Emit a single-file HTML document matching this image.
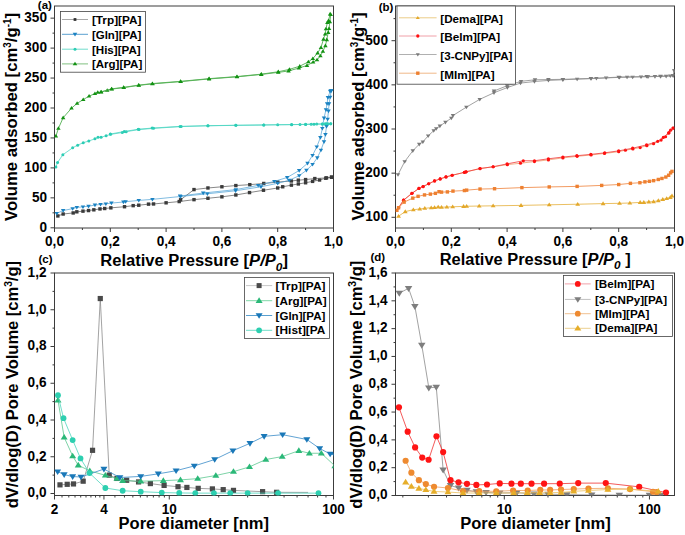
<!DOCTYPE html>
<html><head><meta charset="utf-8"><style>html,body{margin:0;padding:0;background:#fff;}svg{display:block;}</style></head>
<body>
<svg width="685" height="535" viewBox="0 0 685 535">
<defs>
<clipPath id="ca"><rect x="54.5" y="6" width="279" height="222"/></clipPath>
<clipPath id="cb"><rect x="395.5" y="6" width="279" height="222"/></clipPath>
<clipPath id="cc"><rect x="54.5" y="273" width="279" height="222.5"/></clipPath>
<clipPath id="cd"><rect x="395.5" y="273" width="279" height="222.5"/></clipPath>
</defs>
<rect width="685" height="535" fill="#fff"/>
<rect x="54.5" y="6" width="279.0" height="222" fill="none" stroke="#3c3c3c" stroke-width="1"/>
<line x1="54.5" y1="227.80" x2="50.5" y2="227.80" stroke="#3c3c3c" stroke-width="1"/>
<text x="47.00" y="231.60" font-size="13.8" font-weight="bold" text-anchor="end" font-family="Liberation Sans, sans-serif" fill="#000"  textLength="7.56" lengthAdjust="spacingAndGlyphs">0</text>
<line x1="54.5" y1="197.85" x2="50.5" y2="197.85" stroke="#3c3c3c" stroke-width="1"/>
<text x="47.00" y="201.65" font-size="13.8" font-weight="bold" text-anchor="end" font-family="Liberation Sans, sans-serif" fill="#000"  textLength="15.12" lengthAdjust="spacingAndGlyphs">50</text>
<line x1="54.5" y1="167.90" x2="50.5" y2="167.90" stroke="#3c3c3c" stroke-width="1"/>
<text x="47.00" y="171.70" font-size="13.8" font-weight="bold" text-anchor="end" font-family="Liberation Sans, sans-serif" fill="#000"  textLength="22.68" lengthAdjust="spacingAndGlyphs">100</text>
<line x1="54.5" y1="137.95" x2="50.5" y2="137.95" stroke="#3c3c3c" stroke-width="1"/>
<text x="47.00" y="141.75" font-size="13.8" font-weight="bold" text-anchor="end" font-family="Liberation Sans, sans-serif" fill="#000"  textLength="22.68" lengthAdjust="spacingAndGlyphs">150</text>
<line x1="54.5" y1="108.00" x2="50.5" y2="108.00" stroke="#3c3c3c" stroke-width="1"/>
<text x="47.00" y="111.80" font-size="13.8" font-weight="bold" text-anchor="end" font-family="Liberation Sans, sans-serif" fill="#000"  textLength="22.68" lengthAdjust="spacingAndGlyphs">200</text>
<line x1="54.5" y1="78.05" x2="50.5" y2="78.05" stroke="#3c3c3c" stroke-width="1"/>
<text x="47.00" y="81.85" font-size="13.8" font-weight="bold" text-anchor="end" font-family="Liberation Sans, sans-serif" fill="#000"  textLength="22.68" lengthAdjust="spacingAndGlyphs">250</text>
<line x1="54.5" y1="48.10" x2="50.5" y2="48.10" stroke="#3c3c3c" stroke-width="1"/>
<text x="47.00" y="51.90" font-size="13.8" font-weight="bold" text-anchor="end" font-family="Liberation Sans, sans-serif" fill="#000"  textLength="22.68" lengthAdjust="spacingAndGlyphs">300</text>
<line x1="54.5" y1="18.15" x2="50.5" y2="18.15" stroke="#3c3c3c" stroke-width="1"/>
<text x="47.00" y="21.95" font-size="13.8" font-weight="bold" text-anchor="end" font-family="Liberation Sans, sans-serif" fill="#000"  textLength="22.68" lengthAdjust="spacingAndGlyphs">350</text>
<line x1="54.5" y1="212.83" x2="52.5" y2="212.83" stroke="#3c3c3c" stroke-width="1"/>
<line x1="54.5" y1="182.88" x2="52.5" y2="182.88" stroke="#3c3c3c" stroke-width="1"/>
<line x1="54.5" y1="152.93" x2="52.5" y2="152.93" stroke="#3c3c3c" stroke-width="1"/>
<line x1="54.5" y1="122.98" x2="52.5" y2="122.98" stroke="#3c3c3c" stroke-width="1"/>
<line x1="54.5" y1="93.03" x2="52.5" y2="93.03" stroke="#3c3c3c" stroke-width="1"/>
<line x1="54.5" y1="63.08" x2="52.5" y2="63.08" stroke="#3c3c3c" stroke-width="1"/>
<line x1="54.5" y1="33.13" x2="52.5" y2="33.13" stroke="#3c3c3c" stroke-width="1"/>
<line x1="54.50" y1="228" x2="54.50" y2="232" stroke="#3c3c3c" stroke-width="1"/>
<text x="54.50" y="246.30" font-size="13.8" font-weight="bold" text-anchor="middle" font-family="Liberation Sans, sans-serif" fill="#000"  textLength="18.90" lengthAdjust="spacingAndGlyphs">0,0</text>
<line x1="82.40" y1="228" x2="82.40" y2="230" stroke="#3c3c3c" stroke-width="1"/>
<line x1="110.30" y1="228" x2="110.30" y2="232" stroke="#3c3c3c" stroke-width="1"/>
<text x="110.30" y="246.30" font-size="13.8" font-weight="bold" text-anchor="middle" font-family="Liberation Sans, sans-serif" fill="#000"  textLength="18.90" lengthAdjust="spacingAndGlyphs">0,2</text>
<line x1="138.20" y1="228" x2="138.20" y2="230" stroke="#3c3c3c" stroke-width="1"/>
<line x1="166.10" y1="228" x2="166.10" y2="232" stroke="#3c3c3c" stroke-width="1"/>
<text x="166.10" y="246.30" font-size="13.8" font-weight="bold" text-anchor="middle" font-family="Liberation Sans, sans-serif" fill="#000"  textLength="18.90" lengthAdjust="spacingAndGlyphs">0,4</text>
<line x1="194.00" y1="228" x2="194.00" y2="230" stroke="#3c3c3c" stroke-width="1"/>
<line x1="221.90" y1="228" x2="221.90" y2="232" stroke="#3c3c3c" stroke-width="1"/>
<text x="221.90" y="246.30" font-size="13.8" font-weight="bold" text-anchor="middle" font-family="Liberation Sans, sans-serif" fill="#000"  textLength="18.90" lengthAdjust="spacingAndGlyphs">0,6</text>
<line x1="249.80" y1="228" x2="249.80" y2="230" stroke="#3c3c3c" stroke-width="1"/>
<line x1="277.70" y1="228" x2="277.70" y2="232" stroke="#3c3c3c" stroke-width="1"/>
<text x="277.70" y="246.30" font-size="13.8" font-weight="bold" text-anchor="middle" font-family="Liberation Sans, sans-serif" fill="#000"  textLength="18.90" lengthAdjust="spacingAndGlyphs">0,8</text>
<line x1="305.60" y1="228" x2="305.60" y2="230" stroke="#3c3c3c" stroke-width="1"/>
<line x1="333.50" y1="228" x2="333.50" y2="232" stroke="#3c3c3c" stroke-width="1"/>
<text x="333.50" y="246.30" font-size="13.8" font-weight="bold" text-anchor="middle" font-family="Liberation Sans, sans-serif" fill="#000"  textLength="18.90" lengthAdjust="spacingAndGlyphs">1,0</text>
<text x="37.80" y="9.30" font-size="11.5" font-weight="bold" text-anchor="start" font-family="Liberation Sans, sans-serif" fill="#000" >(a)</text>
<text transform="translate(17.3,221.0) rotate(-90)" font-size="17" font-weight="bold" font-family="Liberation Sans, sans-serif" fill="#000" textLength="208" lengthAdjust="spacingAndGlyphs">Volume adsorbed [cm<tspan font-size="10" dy="-6">3</tspan><tspan dy="6">/g</tspan><tspan font-size="10" dy="-6">-1</tspan><tspan dy="6">]</tspan></text>
<text x="100.3" y="266.3" font-size="16" font-weight="bold" font-family="Liberation Sans, sans-serif" fill="#000" textLength="187.6" lengthAdjust="spacingAndGlyphs">Relative Pressure [<tspan font-style="italic">P/P</tspan><tspan font-style="italic" font-size="11.5" dy="4.2">0</tspan><tspan dy="-4.2">]</tspan></text>
<g clip-path="url(#ca)"><polyline points="57.85,215.94 63.15,214.02 73.19,212.94 76.82,211.81 82.96,211.15 88.54,210.55 93.84,209.83 99.98,208.93 104.72,208.51 110.86,207.85 124.53,206.72 133.18,205.64 138.76,205.22 148.52,204.14 153.55,203.96 166.10,202.82 179.21,201.56 194.00,199.65 207.95,198.27 221.90,196.83 235.85,194.97 249.52,192.58 263.47,190.24 277.70,187.97 282.72,186.77 291.37,185.15 298.35,183.95 305.60,182.76 312.57,181.38 319.55,180.00 325.69,178.20 331.55,177.18" fill="none" stroke="#606060" stroke-width="0.75" stroke-linejoin="round"/>
<rect x="56.15" y="214.24" width="3.4" height="3.4" fill="#3a3a3a"/>
<rect x="61.45" y="212.32" width="3.4" height="3.4" fill="#3a3a3a"/>
<rect x="71.49" y="211.24" width="3.4" height="3.4" fill="#3a3a3a"/>
<rect x="75.12" y="210.11" width="3.4" height="3.4" fill="#3a3a3a"/>
<rect x="81.26" y="209.45" width="3.4" height="3.4" fill="#3a3a3a"/>
<rect x="86.84" y="208.85" width="3.4" height="3.4" fill="#3a3a3a"/>
<rect x="92.14" y="208.13" width="3.4" height="3.4" fill="#3a3a3a"/>
<rect x="98.28" y="207.23" width="3.4" height="3.4" fill="#3a3a3a"/>
<rect x="103.02" y="206.81" width="3.4" height="3.4" fill="#3a3a3a"/>
<rect x="109.16" y="206.15" width="3.4" height="3.4" fill="#3a3a3a"/>
<rect x="122.83" y="205.02" width="3.4" height="3.4" fill="#3a3a3a"/>
<rect x="131.48" y="203.94" width="3.4" height="3.4" fill="#3a3a3a"/>
<rect x="137.06" y="203.52" width="3.4" height="3.4" fill="#3a3a3a"/>
<rect x="146.82" y="202.44" width="3.4" height="3.4" fill="#3a3a3a"/>
<rect x="151.85" y="202.26" width="3.4" height="3.4" fill="#3a3a3a"/>
<rect x="164.40" y="201.12" width="3.4" height="3.4" fill="#3a3a3a"/>
<rect x="177.51" y="199.86" width="3.4" height="3.4" fill="#3a3a3a"/>
<rect x="192.30" y="197.95" width="3.4" height="3.4" fill="#3a3a3a"/>
<rect x="206.25" y="196.57" width="3.4" height="3.4" fill="#3a3a3a"/>
<rect x="220.20" y="195.13" width="3.4" height="3.4" fill="#3a3a3a"/>
<rect x="234.15" y="193.27" width="3.4" height="3.4" fill="#3a3a3a"/>
<rect x="247.82" y="190.88" width="3.4" height="3.4" fill="#3a3a3a"/>
<rect x="261.77" y="188.54" width="3.4" height="3.4" fill="#3a3a3a"/>
<rect x="276.00" y="186.27" width="3.4" height="3.4" fill="#3a3a3a"/>
<rect x="281.02" y="185.07" width="3.4" height="3.4" fill="#3a3a3a"/>
<rect x="289.67" y="183.45" width="3.4" height="3.4" fill="#3a3a3a"/>
<rect x="296.65" y="182.25" width="3.4" height="3.4" fill="#3a3a3a"/>
<rect x="303.90" y="181.06" width="3.4" height="3.4" fill="#3a3a3a"/>
<rect x="310.88" y="179.68" width="3.4" height="3.4" fill="#3a3a3a"/>
<rect x="317.85" y="178.30" width="3.4" height="3.4" fill="#3a3a3a"/>
<rect x="323.99" y="176.50" width="3.4" height="3.4" fill="#3a3a3a"/>
<rect x="329.85" y="175.48" width="3.4" height="3.4" fill="#3a3a3a"/>
</g>
<g clip-path="url(#ca)"><polyline points="331.55,177.18 326.52,177.90 314.81,178.56 305.60,179.58 298.35,180.18 291.37,180.96 277.70,182.10 263.75,183.47 249.80,184.67 235.85,185.57 221.90,186.77 207.95,187.97 194.00,189.58 180.61,199.77" fill="none" stroke="#606060" stroke-width="0.75" stroke-linejoin="round"/>
<rect x="329.85" y="175.48" width="3.4" height="3.4" fill="#3a3a3a"/>
<rect x="324.82" y="176.20" width="3.4" height="3.4" fill="#3a3a3a"/>
<rect x="313.11" y="176.86" width="3.4" height="3.4" fill="#3a3a3a"/>
<rect x="303.90" y="177.88" width="3.4" height="3.4" fill="#3a3a3a"/>
<rect x="296.65" y="178.48" width="3.4" height="3.4" fill="#3a3a3a"/>
<rect x="289.67" y="179.26" width="3.4" height="3.4" fill="#3a3a3a"/>
<rect x="276.00" y="180.40" width="3.4" height="3.4" fill="#3a3a3a"/>
<rect x="262.05" y="181.77" width="3.4" height="3.4" fill="#3a3a3a"/>
<rect x="248.10" y="182.97" width="3.4" height="3.4" fill="#3a3a3a"/>
<rect x="234.15" y="183.87" width="3.4" height="3.4" fill="#3a3a3a"/>
<rect x="220.20" y="185.07" width="3.4" height="3.4" fill="#3a3a3a"/>
<rect x="206.25" y="186.27" width="3.4" height="3.4" fill="#3a3a3a"/>
<rect x="192.30" y="187.88" width="3.4" height="3.4" fill="#3a3a3a"/>
<rect x="178.91" y="198.07" width="3.4" height="3.4" fill="#3a3a3a"/>
</g>
<g clip-path="url(#ca)"><polyline points="56.73,213.42 63.15,210.55 72.64,208.63 76.82,207.43 82.96,206.84 88.54,206.24 94.95,205.04 100.53,204.44 105.84,203.84 111.42,203.06 123.41,202.04 125.64,201.68 138.76,200.43 152.43,199.35 180.61,196.47 207.39,193.78 235.57,190.78 260.96,186.77 277.70,183.29 289.14,180.30 299.18,175.69 306.44,170.30 312.57,164.43 317.32,157.72 320.94,150.11 324.01,141.78 325.41,134.54 326.52,126.33 327.64,119.20 328.48,111.00 329.04,103.81 330.15,97.10 331.27,90.63" fill="none" stroke="#4a9fd4" stroke-width="0.7" stroke-linejoin="round"/>
<path d="M56.73 215.58L58.98 211.98L54.48 211.98Z" fill="#1a82c2"/>
<path d="M63.15 212.71L65.40 209.11L60.90 209.11Z" fill="#1a82c2"/>
<path d="M72.64 210.79L74.89 207.19L70.39 207.19Z" fill="#1a82c2"/>
<path d="M76.82 209.59L79.07 205.99L74.57 205.99Z" fill="#1a82c2"/>
<path d="M82.96 209.00L85.21 205.40L80.71 205.40Z" fill="#1a82c2"/>
<path d="M88.54 208.40L90.79 204.80L86.29 204.80Z" fill="#1a82c2"/>
<path d="M94.95 207.20L97.20 203.60L92.70 203.60Z" fill="#1a82c2"/>
<path d="M100.53 206.60L102.78 203.00L98.28 203.00Z" fill="#1a82c2"/>
<path d="M105.84 206.00L108.09 202.40L103.59 202.40Z" fill="#1a82c2"/>
<path d="M111.42 205.22L113.67 201.62L109.17 201.62Z" fill="#1a82c2"/>
<path d="M123.41 204.20L125.66 200.60L121.16 200.60Z" fill="#1a82c2"/>
<path d="M125.64 203.84L127.89 200.24L123.39 200.24Z" fill="#1a82c2"/>
<path d="M138.76 202.59L141.01 198.99L136.51 198.99Z" fill="#1a82c2"/>
<path d="M152.43 201.51L154.68 197.91L150.18 197.91Z" fill="#1a82c2"/>
<path d="M180.61 198.63L182.86 195.03L178.36 195.03Z" fill="#1a82c2"/>
<path d="M207.39 195.94L209.64 192.34L205.14 192.34Z" fill="#1a82c2"/>
<path d="M235.57 192.94L237.82 189.34L233.32 189.34Z" fill="#1a82c2"/>
<path d="M260.96 188.93L263.21 185.33L258.71 185.33Z" fill="#1a82c2"/>
<path d="M277.70 185.45L279.95 181.85L275.45 181.85Z" fill="#1a82c2"/>
<path d="M289.14 182.46L291.39 178.86L286.89 178.86Z" fill="#1a82c2"/>
<path d="M299.18 177.85L301.43 174.25L296.93 174.25Z" fill="#1a82c2"/>
<path d="M306.44 172.46L308.69 168.86L304.19 168.86Z" fill="#1a82c2"/>
<path d="M312.57 166.59L314.82 162.99L310.32 162.99Z" fill="#1a82c2"/>
<path d="M317.32 159.88L319.57 156.28L315.07 156.28Z" fill="#1a82c2"/>
<path d="M320.94 152.27L323.19 148.67L318.69 148.67Z" fill="#1a82c2"/>
<path d="M324.01 143.94L326.26 140.34L321.76 140.34Z" fill="#1a82c2"/>
<path d="M325.41 136.70L327.66 133.10L323.16 133.10Z" fill="#1a82c2"/>
<path d="M326.52 128.49L328.77 124.89L324.27 124.89Z" fill="#1a82c2"/>
<path d="M327.64 121.36L329.89 117.76L325.39 117.76Z" fill="#1a82c2"/>
<path d="M328.48 113.16L330.73 109.56L326.23 109.56Z" fill="#1a82c2"/>
<path d="M329.04 105.97L331.29 102.37L326.79 102.37Z" fill="#1a82c2"/>
<path d="M330.15 99.26L332.40 95.66L327.90 95.66Z" fill="#1a82c2"/>
<path d="M331.27 92.79L333.52 89.19L329.02 89.19Z" fill="#1a82c2"/>
</g>
<g clip-path="url(#ca)"><polyline points="331.27,90.63 330.15,91.29 327.92,97.52 327.08,103.69 325.97,109.80 324.01,118.00 322.34,128.37 320.39,137.53 316.76,146.94 312.57,155.32 307.55,163.29 299.18,170.48 287.19,177.48 274.35,181.38 258.17,185.39 235.85,189.58 203.21,193.06 180.05,196.05" fill="none" stroke="#4a9fd4" stroke-width="0.7" stroke-linejoin="round"/>
<path d="M331.27 92.79L333.52 89.19L329.02 89.19Z" fill="#1a82c2"/>
<path d="M330.15 93.45L332.40 89.85L327.90 89.85Z" fill="#1a82c2"/>
<path d="M327.92 99.68L330.17 96.08L325.67 96.08Z" fill="#1a82c2"/>
<path d="M327.08 105.85L329.33 102.25L324.83 102.25Z" fill="#1a82c2"/>
<path d="M325.97 111.96L328.22 108.36L323.72 108.36Z" fill="#1a82c2"/>
<path d="M324.01 120.16L326.26 116.56L321.76 116.56Z" fill="#1a82c2"/>
<path d="M322.34 130.53L324.59 126.93L320.09 126.93Z" fill="#1a82c2"/>
<path d="M320.39 139.69L322.64 136.09L318.14 136.09Z" fill="#1a82c2"/>
<path d="M316.76 149.09L319.01 145.50L314.51 145.50Z" fill="#1a82c2"/>
<path d="M312.57 157.48L314.82 153.88L310.32 153.88Z" fill="#1a82c2"/>
<path d="M307.55 165.45L309.80 161.85L305.30 161.85Z" fill="#1a82c2"/>
<path d="M299.18 172.64L301.43 169.04L296.93 169.04Z" fill="#1a82c2"/>
<path d="M287.19 179.64L289.44 176.04L284.94 176.04Z" fill="#1a82c2"/>
<path d="M274.35 183.54L276.60 179.94L272.10 179.94Z" fill="#1a82c2"/>
<path d="M258.17 187.55L260.42 183.95L255.92 183.95Z" fill="#1a82c2"/>
<path d="M235.85 191.74L238.10 188.14L233.60 188.14Z" fill="#1a82c2"/>
<path d="M203.21 195.22L205.46 191.62L200.96 191.62Z" fill="#1a82c2"/>
<path d="M180.05 198.21L182.30 194.61L177.80 194.61Z" fill="#1a82c2"/>
</g>
<g clip-path="url(#ca)"><polyline points="55.90,167.12 57.57,162.51 62.87,154.72 72.64,147.83 77.66,145.14 83.24,142.74 88.82,140.95 94.95,138.85 98.02,137.35 101.09,137.35 106.12,135.73 110.58,134.36 122.30,132.56 126.20,131.66 139.04,129.56 153.55,128.37 181.17,126.57 207.95,125.79 235.85,125.37 263.75,125.07 277.70,124.77 291.65,124.65 300.02,124.47 305.60,124.35 311.18,124.17 316.76,124.05 322.34,123.99 325.13,123.87 327.92,123.81 330.71,123.69" fill="none" stroke="#48d4c0" stroke-width="0.75" stroke-linejoin="round"/>
<circle cx="55.90" cy="167.12" r="1.5" fill="#2ccdb5"/>
<circle cx="57.57" cy="162.51" r="1.5" fill="#2ccdb5"/>
<circle cx="62.87" cy="154.72" r="1.5" fill="#2ccdb5"/>
<circle cx="72.64" cy="147.83" r="1.5" fill="#2ccdb5"/>
<circle cx="77.66" cy="145.14" r="1.5" fill="#2ccdb5"/>
<circle cx="83.24" cy="142.74" r="1.5" fill="#2ccdb5"/>
<circle cx="88.82" cy="140.95" r="1.5" fill="#2ccdb5"/>
<circle cx="94.95" cy="138.85" r="1.5" fill="#2ccdb5"/>
<circle cx="98.02" cy="137.35" r="1.5" fill="#2ccdb5"/>
<circle cx="101.09" cy="137.35" r="1.5" fill="#2ccdb5"/>
<circle cx="106.12" cy="135.73" r="1.5" fill="#2ccdb5"/>
<circle cx="110.58" cy="134.36" r="1.5" fill="#2ccdb5"/>
<circle cx="122.30" cy="132.56" r="1.5" fill="#2ccdb5"/>
<circle cx="126.20" cy="131.66" r="1.5" fill="#2ccdb5"/>
<circle cx="139.04" cy="129.56" r="1.5" fill="#2ccdb5"/>
<circle cx="153.55" cy="128.37" r="1.5" fill="#2ccdb5"/>
<circle cx="181.17" cy="126.57" r="1.5" fill="#2ccdb5"/>
<circle cx="207.95" cy="125.79" r="1.5" fill="#2ccdb5"/>
<circle cx="235.85" cy="125.37" r="1.5" fill="#2ccdb5"/>
<circle cx="263.75" cy="125.07" r="1.5" fill="#2ccdb5"/>
<circle cx="277.70" cy="124.77" r="1.5" fill="#2ccdb5"/>
<circle cx="291.65" cy="124.65" r="1.5" fill="#2ccdb5"/>
<circle cx="300.02" cy="124.47" r="1.5" fill="#2ccdb5"/>
<circle cx="305.60" cy="124.35" r="1.5" fill="#2ccdb5"/>
<circle cx="311.18" cy="124.17" r="1.5" fill="#2ccdb5"/>
<circle cx="316.76" cy="124.05" r="1.5" fill="#2ccdb5"/>
<circle cx="322.34" cy="123.99" r="1.5" fill="#2ccdb5"/>
<circle cx="325.13" cy="123.87" r="1.5" fill="#2ccdb5"/>
<circle cx="327.92" cy="123.81" r="1.5" fill="#2ccdb5"/>
<circle cx="330.71" cy="123.69" r="1.5" fill="#2ccdb5"/>
</g>
<g clip-path="url(#ca)"><polyline points="330.71,123.69 326.52,123.87 322.34,123.99 313.97,124.17 305.60,124.41 291.65,124.59 263.75,124.89 235.85,125.25 207.95,125.67 180.05,126.39 152.15,128.07 138.20,129.26 124.25,131.48 110.30,134.06" fill="none" stroke="#48d4c0" stroke-width="0.75" stroke-linejoin="round"/>
<circle cx="330.71" cy="123.69" r="1.5" fill="#2ccdb5"/>
<circle cx="326.52" cy="123.87" r="1.5" fill="#2ccdb5"/>
<circle cx="322.34" cy="123.99" r="1.5" fill="#2ccdb5"/>
<circle cx="313.97" cy="124.17" r="1.5" fill="#2ccdb5"/>
<circle cx="305.60" cy="124.41" r="1.5" fill="#2ccdb5"/>
<circle cx="291.65" cy="124.59" r="1.5" fill="#2ccdb5"/>
<circle cx="263.75" cy="124.89" r="1.5" fill="#2ccdb5"/>
<circle cx="235.85" cy="125.25" r="1.5" fill="#2ccdb5"/>
<circle cx="207.95" cy="125.67" r="1.5" fill="#2ccdb5"/>
<circle cx="180.05" cy="126.39" r="1.5" fill="#2ccdb5"/>
<circle cx="152.15" cy="128.07" r="1.5" fill="#2ccdb5"/>
<circle cx="138.20" cy="129.26" r="1.5" fill="#2ccdb5"/>
<circle cx="124.25" cy="131.48" r="1.5" fill="#2ccdb5"/>
<circle cx="110.30" cy="134.06" r="1.5" fill="#2ccdb5"/>
</g>
<g clip-path="url(#ca)"><polyline points="55.90,136.15 58.41,128.37 63.15,117.76 71.52,108.18 77.10,103.33 83.24,99.61 89.10,96.14 94.95,93.62 97.75,92.43 101.09,92.13 107.23,90.33 111.69,89.13 123.69,87.63 138.76,85.36 152.43,83.86 180.61,81.64 209.07,78.95 236.97,76.85 261.24,74.46 278.26,72.36 288.58,70.98 298.90,68.05 307.00,65.47 313.13,62.18 317.04,59.90 320.39,55.89 322.90,51.39 325.41,45.70 326.80,39.71 328.20,32.53 329.04,28.63 329.87,21.74 330.71,14.56" fill="none" stroke="#52b052" stroke-width="0.9" stroke-linejoin="round"/>
<path d="M55.90 133.99L58.15 137.59L53.65 137.59Z" fill="#139213"/>
<path d="M58.41 126.21L60.66 129.81L56.16 129.81Z" fill="#139213"/>
<path d="M63.15 115.60L65.40 119.20L60.90 119.20Z" fill="#139213"/>
<path d="M71.52 106.02L73.77 109.62L69.27 109.62Z" fill="#139213"/>
<path d="M77.10 101.17L79.35 104.77L74.85 104.77Z" fill="#139213"/>
<path d="M83.24 97.45L85.49 101.05L80.99 101.05Z" fill="#139213"/>
<path d="M89.10 93.98L91.35 97.58L86.85 97.58Z" fill="#139213"/>
<path d="M94.95 91.46L97.20 95.06L92.70 95.06Z" fill="#139213"/>
<path d="M97.75 90.27L100.00 93.87L95.50 93.87Z" fill="#139213"/>
<path d="M101.09 89.97L103.34 93.57L98.84 93.57Z" fill="#139213"/>
<path d="M107.23 88.17L109.48 91.77L104.98 91.77Z" fill="#139213"/>
<path d="M111.69 86.97L113.94 90.57L109.44 90.57Z" fill="#139213"/>
<path d="M123.69 85.47L125.94 89.07L121.44 89.07Z" fill="#139213"/>
<path d="M138.76 83.20L141.01 86.80L136.51 86.80Z" fill="#139213"/>
<path d="M152.43 81.70L154.68 85.30L150.18 85.30Z" fill="#139213"/>
<path d="M180.61 79.48L182.86 83.08L178.36 83.08Z" fill="#139213"/>
<path d="M209.07 76.79L211.32 80.39L206.82 80.39Z" fill="#139213"/>
<path d="M236.97 74.69L239.22 78.29L234.72 78.29Z" fill="#139213"/>
<path d="M261.24 72.30L263.49 75.90L258.99 75.90Z" fill="#139213"/>
<path d="M278.26 70.20L280.51 73.80L276.01 73.80Z" fill="#139213"/>
<path d="M288.58 68.82L290.83 72.42L286.33 72.42Z" fill="#139213"/>
<path d="M298.90 65.89L301.15 69.49L296.65 69.49Z" fill="#139213"/>
<path d="M307.00 63.31L309.25 66.91L304.75 66.91Z" fill="#139213"/>
<path d="M313.13 60.02L315.38 63.62L310.88 63.62Z" fill="#139213"/>
<path d="M317.04 57.74L319.29 61.34L314.79 61.34Z" fill="#139213"/>
<path d="M320.39 53.73L322.64 57.33L318.14 57.33Z" fill="#139213"/>
<path d="M322.90 49.23L325.15 52.83L320.65 52.83Z" fill="#139213"/>
<path d="M325.41 43.54L327.66 47.14L323.16 47.14Z" fill="#139213"/>
<path d="M326.80 37.55L329.05 41.15L324.55 41.15Z" fill="#139213"/>
<path d="M328.20 30.37L330.45 33.97L325.95 33.97Z" fill="#139213"/>
<path d="M329.04 26.47L331.29 30.07L326.79 30.07Z" fill="#139213"/>
<path d="M329.87 19.58L332.12 23.18L327.62 23.18Z" fill="#139213"/>
<path d="M330.71 12.40L332.96 16.00L328.46 16.00Z" fill="#139213"/>
</g>
<g clip-path="url(#ca)"><polyline points="330.15,13.96 328.48,20.73 327.36,22.64 325.97,28.93 325.13,34.14 323.46,39.23 320.94,47.62 317.60,53.01 312.85,58.58 308.39,61.88 299.74,66.19 289.42,69.36 278.26,71.76 261.24,74.16 236.97,76.55 209.07,78.65 180.61,81.34 152.43,83.56 138.76,85.12 123.69,87.33 111.69,88.83 101.09,91.83" fill="none" stroke="#52b052" stroke-width="0.9" stroke-linejoin="round"/>
<path d="M330.15 11.80L332.40 15.40L327.90 15.40Z" fill="#139213"/>
<path d="M328.48 18.57L330.73 22.17L326.23 22.17Z" fill="#139213"/>
<path d="M327.36 20.48L329.61 24.08L325.11 24.08Z" fill="#139213"/>
<path d="M325.97 26.77L328.22 30.37L323.72 30.37Z" fill="#139213"/>
<path d="M325.13 31.98L327.38 35.58L322.88 35.58Z" fill="#139213"/>
<path d="M323.46 37.07L325.71 40.67L321.21 40.67Z" fill="#139213"/>
<path d="M320.94 45.46L323.19 49.06L318.69 49.06Z" fill="#139213"/>
<path d="M317.60 50.85L319.85 54.45L315.35 54.45Z" fill="#139213"/>
<path d="M312.85 56.42L315.10 60.02L310.60 60.02Z" fill="#139213"/>
<path d="M308.39 59.72L310.64 63.32L306.14 63.32Z" fill="#139213"/>
<path d="M299.74 64.03L301.99 67.63L297.49 67.63Z" fill="#139213"/>
<path d="M289.42 67.20L291.67 70.80L287.17 70.80Z" fill="#139213"/>
<path d="M278.26 69.60L280.51 73.20L276.01 73.20Z" fill="#139213"/>
<path d="M261.24 72.00L263.49 75.60L258.99 75.60Z" fill="#139213"/>
<path d="M236.97 74.39L239.22 77.99L234.72 77.99Z" fill="#139213"/>
<path d="M209.07 76.49L211.32 80.09L206.82 80.09Z" fill="#139213"/>
<path d="M180.61 79.18L182.86 82.78L178.36 82.78Z" fill="#139213"/>
<path d="M152.43 81.40L154.68 85.00L150.18 85.00Z" fill="#139213"/>
<path d="M138.76 82.96L141.01 86.56L136.51 86.56Z" fill="#139213"/>
<path d="M123.69 85.17L125.94 88.77L121.44 88.77Z" fill="#139213"/>
<path d="M111.69 86.67L113.94 90.27L109.44 90.27Z" fill="#139213"/>
<path d="M101.09 89.67L103.34 93.27L98.84 93.27Z" fill="#139213"/>
</g>
<rect x="60.5" y="11.5" width="85.0" height="60.7" fill="#fff" stroke="#444" stroke-width="0.8"/>
<line x1="62" y1="19.5" x2="88" y2="19.5" stroke="#a8a8a8" stroke-width="1"/>
<rect x="73.60" y="18.10" width="2.8" height="2.8" fill="#333"/>
<text x="91.90" y="24.00" font-size="11.3" font-weight="bold" text-anchor="start" font-family="Liberation Sans, sans-serif" fill="#000" textLength="49.5" lengthAdjust="spacingAndGlyphs">[Trp][PA]</text>
<line x1="62" y1="34.3" x2="88" y2="34.3" stroke="#5aa0d0" stroke-width="1"/>
<path d="M75.00 36.51L77.30 32.83L72.70 32.83Z" fill="#1a82c2"/>
<text x="91.90" y="38.80" font-size="11.3" font-weight="bold" text-anchor="start" font-family="Liberation Sans, sans-serif" fill="#000" textLength="49.5" lengthAdjust="spacingAndGlyphs">[Gln][PA]</text>
<line x1="62" y1="49.2" x2="88" y2="49.2" stroke="#70dccc" stroke-width="1"/>
<circle cx="75.00" cy="49.20" r="1.5" fill="#2ccdb5"/>
<text x="91.90" y="53.70" font-size="11.3" font-weight="bold" text-anchor="start" font-family="Liberation Sans, sans-serif" fill="#000" textLength="48.8" lengthAdjust="spacingAndGlyphs">[His][PA]</text>
<line x1="62" y1="63.9" x2="88" y2="63.9" stroke="#80c080" stroke-width="1"/>
<path d="M75.00 61.69L77.30 65.37L72.70 65.37Z" fill="#139213"/>
<text x="91.90" y="68.40" font-size="11.3" font-weight="bold" text-anchor="start" font-family="Liberation Sans, sans-serif" fill="#000" textLength="50.4" lengthAdjust="spacingAndGlyphs">[Arg][PA]</text>
<rect x="395.5" y="6" width="279.0" height="222" fill="none" stroke="#3c3c3c" stroke-width="1"/>
<line x1="395.5" y1="217.30" x2="391.5" y2="217.30" stroke="#3c3c3c" stroke-width="1"/>
<text x="388.00" y="221.10" font-size="13.8" font-weight="bold" text-anchor="end" font-family="Liberation Sans, sans-serif" fill="#000"  textLength="22.68" lengthAdjust="spacingAndGlyphs">100</text>
<line x1="395.5" y1="173.15" x2="391.5" y2="173.15" stroke="#3c3c3c" stroke-width="1"/>
<text x="388.00" y="176.95" font-size="13.8" font-weight="bold" text-anchor="end" font-family="Liberation Sans, sans-serif" fill="#000"  textLength="22.68" lengthAdjust="spacingAndGlyphs">200</text>
<line x1="395.5" y1="129.00" x2="391.5" y2="129.00" stroke="#3c3c3c" stroke-width="1"/>
<text x="388.00" y="132.80" font-size="13.8" font-weight="bold" text-anchor="end" font-family="Liberation Sans, sans-serif" fill="#000"  textLength="22.68" lengthAdjust="spacingAndGlyphs">300</text>
<line x1="395.5" y1="84.85" x2="391.5" y2="84.85" stroke="#3c3c3c" stroke-width="1"/>
<text x="388.00" y="88.65" font-size="13.8" font-weight="bold" text-anchor="end" font-family="Liberation Sans, sans-serif" fill="#000"  textLength="22.68" lengthAdjust="spacingAndGlyphs">400</text>
<line x1="395.5" y1="40.70" x2="391.5" y2="40.70" stroke="#3c3c3c" stroke-width="1"/>
<text x="388.00" y="44.50" font-size="13.8" font-weight="bold" text-anchor="end" font-family="Liberation Sans, sans-serif" fill="#000"  textLength="22.68" lengthAdjust="spacingAndGlyphs">500</text>
<line x1="395.5" y1="195.23" x2="393.5" y2="195.23" stroke="#3c3c3c" stroke-width="1"/>
<line x1="395.5" y1="151.08" x2="393.5" y2="151.08" stroke="#3c3c3c" stroke-width="1"/>
<line x1="395.5" y1="106.93" x2="393.5" y2="106.93" stroke="#3c3c3c" stroke-width="1"/>
<line x1="395.5" y1="62.78" x2="393.5" y2="62.78" stroke="#3c3c3c" stroke-width="1"/>
<line x1="395.5" y1="18.62" x2="393.5" y2="18.62" stroke="#3c3c3c" stroke-width="1"/>
<line x1="395.50" y1="228" x2="395.50" y2="232" stroke="#3c3c3c" stroke-width="1"/>
<text x="395.50" y="246.30" font-size="13.8" font-weight="bold" text-anchor="middle" font-family="Liberation Sans, sans-serif" fill="#000"  textLength="18.90" lengthAdjust="spacingAndGlyphs">0,0</text>
<line x1="423.40" y1="228" x2="423.40" y2="230" stroke="#3c3c3c" stroke-width="1"/>
<line x1="451.30" y1="228" x2="451.30" y2="232" stroke="#3c3c3c" stroke-width="1"/>
<text x="451.30" y="246.30" font-size="13.8" font-weight="bold" text-anchor="middle" font-family="Liberation Sans, sans-serif" fill="#000"  textLength="18.90" lengthAdjust="spacingAndGlyphs">0,2</text>
<line x1="479.20" y1="228" x2="479.20" y2="230" stroke="#3c3c3c" stroke-width="1"/>
<line x1="507.10" y1="228" x2="507.10" y2="232" stroke="#3c3c3c" stroke-width="1"/>
<text x="507.10" y="246.30" font-size="13.8" font-weight="bold" text-anchor="middle" font-family="Liberation Sans, sans-serif" fill="#000"  textLength="18.90" lengthAdjust="spacingAndGlyphs">0,4</text>
<line x1="535.00" y1="228" x2="535.00" y2="230" stroke="#3c3c3c" stroke-width="1"/>
<line x1="562.90" y1="228" x2="562.90" y2="232" stroke="#3c3c3c" stroke-width="1"/>
<text x="562.90" y="246.30" font-size="13.8" font-weight="bold" text-anchor="middle" font-family="Liberation Sans, sans-serif" fill="#000"  textLength="18.90" lengthAdjust="spacingAndGlyphs">0,6</text>
<line x1="590.80" y1="228" x2="590.80" y2="230" stroke="#3c3c3c" stroke-width="1"/>
<line x1="618.70" y1="228" x2="618.70" y2="232" stroke="#3c3c3c" stroke-width="1"/>
<text x="618.70" y="246.30" font-size="13.8" font-weight="bold" text-anchor="middle" font-family="Liberation Sans, sans-serif" fill="#000"  textLength="18.90" lengthAdjust="spacingAndGlyphs">0,8</text>
<line x1="646.60" y1="228" x2="646.60" y2="230" stroke="#3c3c3c" stroke-width="1"/>
<line x1="674.50" y1="228" x2="674.50" y2="232" stroke="#3c3c3c" stroke-width="1"/>
<text x="674.50" y="246.30" font-size="13.8" font-weight="bold" text-anchor="middle" font-family="Liberation Sans, sans-serif" fill="#000"  textLength="18.90" lengthAdjust="spacingAndGlyphs">1,0</text>
<text x="378.70" y="10.90" font-size="11.5" font-weight="bold" text-anchor="start" font-family="Liberation Sans, sans-serif" fill="#000" >(b)</text>
<text transform="translate(364,220.5) rotate(-90)" font-size="17" font-weight="bold" font-family="Liberation Sans, sans-serif" fill="#000" textLength="208" lengthAdjust="spacingAndGlyphs">Volume adsorbed [cm<tspan font-size="10" dy="-6">3</tspan><tspan dy="6">/g</tspan><tspan font-size="10" dy="-6">-1</tspan><tspan dy="6">]</tspan></text>
<text x="439.7" y="264.5" font-size="16" font-weight="bold" font-family="Liberation Sans, sans-serif" fill="#000" textLength="191" lengthAdjust="spacingAndGlyphs">Relative Pressure [<tspan font-style="italic">P/P</tspan><tspan font-style="italic" font-size="11.5" dy="4.2">0</tspan><tspan dy="-4.2"> ]</tspan></text>
<g clip-path="url(#cb)"><polyline points="398.01,174.65 404.71,161.58 412.80,150.77 419.22,144.28 422.84,141.89 428.14,135.89 433.72,130.68 436.23,128.60 439.86,126.00 445.44,122.29 451.30,118.09 452.97,115.53 466.37,107.15 479.76,99.33 493.99,92.75 507.38,87.54 520.49,83.08 534.44,81.54 548.39,80.44 562.90,79.77 577.13,79.11 591.08,78.67 596.38,78.45 606.14,77.96 619.54,77.34 627.07,77.21 632.65,77.08 641.02,76.90 648.00,76.77 654.97,76.55 660.55,76.46 666.13,76.24 670.32,75.93 673.11,75.67 674.36,70.72" fill="none" stroke="#8a8a8a" stroke-width="0.8" stroke-linejoin="round"/>
<path d="M398.01 176.81L400.26 173.21L395.76 173.21Z" fill="#7a7a7a"/>
<path d="M404.71 163.74L406.96 160.14L402.46 160.14Z" fill="#7a7a7a"/>
<path d="M412.80 152.93L415.05 149.33L410.55 149.33Z" fill="#7a7a7a"/>
<path d="M419.22 146.44L421.47 142.84L416.97 142.84Z" fill="#7a7a7a"/>
<path d="M422.84 144.05L425.09 140.45L420.59 140.45Z" fill="#7a7a7a"/>
<path d="M428.14 138.05L430.39 134.45L425.89 134.45Z" fill="#7a7a7a"/>
<path d="M433.72 132.84L435.97 129.24L431.47 129.24Z" fill="#7a7a7a"/>
<path d="M436.23 130.76L438.48 127.16L433.98 127.16Z" fill="#7a7a7a"/>
<path d="M439.86 128.16L442.11 124.56L437.61 124.56Z" fill="#7a7a7a"/>
<path d="M445.44 124.45L447.69 120.85L443.19 120.85Z" fill="#7a7a7a"/>
<path d="M451.30 120.25L453.55 116.65L449.05 116.65Z" fill="#7a7a7a"/>
<path d="M452.97 117.69L455.22 114.09L450.72 114.09Z" fill="#7a7a7a"/>
<path d="M466.37 109.31L468.62 105.71L464.12 105.71Z" fill="#7a7a7a"/>
<path d="M479.76 101.49L482.01 97.89L477.51 97.89Z" fill="#7a7a7a"/>
<path d="M493.99 94.91L496.24 91.31L491.74 91.31Z" fill="#7a7a7a"/>
<path d="M507.38 89.70L509.63 86.10L505.13 86.10Z" fill="#7a7a7a"/>
<path d="M520.49 85.24L522.74 81.64L518.24 81.64Z" fill="#7a7a7a"/>
<path d="M534.44 83.70L536.69 80.10L532.19 80.10Z" fill="#7a7a7a"/>
<path d="M548.39 82.59L550.64 79.00L546.14 79.00Z" fill="#7a7a7a"/>
<path d="M562.90 81.93L565.15 78.33L560.65 78.33Z" fill="#7a7a7a"/>
<path d="M577.13 81.27L579.38 77.67L574.88 77.67Z" fill="#7a7a7a"/>
<path d="M591.08 80.83L593.33 77.23L588.83 77.23Z" fill="#7a7a7a"/>
<path d="M596.38 80.61L598.63 77.01L594.13 77.01Z" fill="#7a7a7a"/>
<path d="M606.14 80.12L608.39 76.52L603.89 76.52Z" fill="#7a7a7a"/>
<path d="M619.54 79.50L621.79 75.90L617.29 75.90Z" fill="#7a7a7a"/>
<path d="M627.07 79.37L629.32 75.77L624.82 75.77Z" fill="#7a7a7a"/>
<path d="M632.65 79.24L634.90 75.64L630.40 75.64Z" fill="#7a7a7a"/>
<path d="M641.02 79.06L643.27 75.46L638.77 75.46Z" fill="#7a7a7a"/>
<path d="M648.00 78.93L650.25 75.33L645.75 75.33Z" fill="#7a7a7a"/>
<path d="M654.97 78.71L657.22 75.11L652.72 75.11Z" fill="#7a7a7a"/>
<path d="M660.55 78.62L662.80 75.02L658.30 75.02Z" fill="#7a7a7a"/>
<path d="M666.13 78.40L668.38 74.80L663.88 74.80Z" fill="#7a7a7a"/>
<path d="M670.32 78.09L672.57 74.49L668.07 74.49Z" fill="#7a7a7a"/>
<path d="M673.11 77.83L675.36 74.23L670.86 74.23Z" fill="#7a7a7a"/>
<path d="M674.36 72.88L676.61 69.28L672.11 69.28Z" fill="#7a7a7a"/>
</g>
<g clip-path="url(#cb)"><polyline points="674.36,70.72 673.11,75.58 660.55,76.24 646.60,76.46 618.70,77.12 590.80,78.45 562.90,79.33 548.39,79.55 535.00,79.77 521.05,81.32 507.10,85.73 493.99,91.03" fill="none" stroke="#8a8a8a" stroke-width="0.8" stroke-linejoin="round"/>
<path d="M674.36 72.88L676.61 69.28L672.11 69.28Z" fill="#7a7a7a"/>
<path d="M673.11 77.74L675.36 74.14L670.86 74.14Z" fill="#7a7a7a"/>
<path d="M660.55 78.40L662.80 74.80L658.30 74.80Z" fill="#7a7a7a"/>
<path d="M646.60 78.62L648.85 75.02L644.35 75.02Z" fill="#7a7a7a"/>
<path d="M618.70 79.28L620.95 75.68L616.45 75.68Z" fill="#7a7a7a"/>
<path d="M590.80 80.61L593.05 77.01L588.55 77.01Z" fill="#7a7a7a"/>
<path d="M562.90 81.49L565.15 77.89L560.65 77.89Z" fill="#7a7a7a"/>
<path d="M548.39 81.71L550.64 78.11L546.14 78.11Z" fill="#7a7a7a"/>
<path d="M535.00 81.93L537.25 78.33L532.75 78.33Z" fill="#7a7a7a"/>
<path d="M521.05 83.48L523.30 79.88L518.80 79.88Z" fill="#7a7a7a"/>
<path d="M507.10 87.89L509.35 84.29L504.85 84.29Z" fill="#7a7a7a"/>
<path d="M493.99 93.19L496.24 89.59L491.74 89.59Z" fill="#7a7a7a"/>
</g>
<g clip-path="url(#cb)"><polyline points="398.57,207.72 403.59,200.13 411.96,193.33 418.94,188.43 423.12,186.53 428.70,183.75 434.56,180.92 440.14,178.93 446.00,176.95 452.14,175.27 464.41,172.36 466.09,171.83 480.04,168.56 493.15,166.75 507.38,164.67 520.49,163.22 534.44,161.58 548.39,159.91 562.90,157.92 577.13,156.37 591.08,154.96 604.47,153.46 618.70,151.69 625.40,150.19 632.93,149.00 640.18,147.54 646.88,145.69 653.58,143.70 661.11,140.08 665.57,136.77 668.64,133.19 670.59,130.19 673.11,128.12" fill="none" stroke="#f0a070" stroke-width="0.8" stroke-linejoin="round"/>
<circle cx="398.57" cy="207.72" r="1.6" fill="#ff1010"/>
<circle cx="403.59" cy="200.13" r="1.6" fill="#ff1010"/>
<circle cx="411.96" cy="193.33" r="1.6" fill="#ff1010"/>
<circle cx="418.94" cy="188.43" r="1.6" fill="#ff1010"/>
<circle cx="423.12" cy="186.53" r="1.6" fill="#ff1010"/>
<circle cx="428.70" cy="183.75" r="1.6" fill="#ff1010"/>
<circle cx="434.56" cy="180.92" r="1.6" fill="#ff1010"/>
<circle cx="440.14" cy="178.93" r="1.6" fill="#ff1010"/>
<circle cx="446.00" cy="176.95" r="1.6" fill="#ff1010"/>
<circle cx="452.14" cy="175.27" r="1.6" fill="#ff1010"/>
<circle cx="464.41" cy="172.36" r="1.6" fill="#ff1010"/>
<circle cx="466.09" cy="171.83" r="1.6" fill="#ff1010"/>
<circle cx="480.04" cy="168.56" r="1.6" fill="#ff1010"/>
<circle cx="493.15" cy="166.75" r="1.6" fill="#ff1010"/>
<circle cx="507.38" cy="164.67" r="1.6" fill="#ff1010"/>
<circle cx="520.49" cy="163.22" r="1.6" fill="#ff1010"/>
<circle cx="534.44" cy="161.58" r="1.6" fill="#ff1010"/>
<circle cx="548.39" cy="159.91" r="1.6" fill="#ff1010"/>
<circle cx="562.90" cy="157.92" r="1.6" fill="#ff1010"/>
<circle cx="577.13" cy="156.37" r="1.6" fill="#ff1010"/>
<circle cx="591.08" cy="154.96" r="1.6" fill="#ff1010"/>
<circle cx="604.47" cy="153.46" r="1.6" fill="#ff1010"/>
<circle cx="618.70" cy="151.69" r="1.6" fill="#ff1010"/>
<circle cx="625.40" cy="150.19" r="1.6" fill="#ff1010"/>
<circle cx="632.93" cy="149.00" r="1.6" fill="#ff1010"/>
<circle cx="640.18" cy="147.54" r="1.6" fill="#ff1010"/>
<circle cx="646.88" cy="145.69" r="1.6" fill="#ff1010"/>
<circle cx="653.58" cy="143.70" r="1.6" fill="#ff1010"/>
<circle cx="661.11" cy="140.08" r="1.6" fill="#ff1010"/>
<circle cx="665.57" cy="136.77" r="1.6" fill="#ff1010"/>
<circle cx="668.64" cy="133.19" r="1.6" fill="#ff1010"/>
<circle cx="670.59" cy="130.19" r="1.6" fill="#ff1010"/>
<circle cx="673.11" cy="128.12" r="1.6" fill="#ff1010"/>
</g>
<g clip-path="url(#cb)"><polyline points="673.11,128.12 668.92,132.53 663.34,137.39 657.76,141.36 646.60,144.89 632.65,148.21 618.70,150.85 604.75,152.84 590.80,154.39 576.85,155.71 562.90,157.04 548.39,158.80 534.44,160.74 523.28,160.79 507.10,163.88 493.15,166.75 480.04,168.56 466.09,171.83 464.41,172.36 452.14,175.27 446.00,176.95 440.14,178.93 434.56,180.92 428.70,183.75 423.12,186.53 418.94,188.43 411.96,193.33 403.59,200.13 398.57,207.72" fill="none" stroke="#f03838" stroke-width="0.8" stroke-linejoin="round"/>
<circle cx="673.11" cy="128.12" r="1.6" fill="#ff1010"/>
<circle cx="668.92" cy="132.53" r="1.6" fill="#ff1010"/>
<circle cx="663.34" cy="137.39" r="1.6" fill="#ff1010"/>
<circle cx="657.76" cy="141.36" r="1.6" fill="#ff1010"/>
<circle cx="646.60" cy="144.89" r="1.6" fill="#ff1010"/>
<circle cx="632.65" cy="148.21" r="1.6" fill="#ff1010"/>
<circle cx="618.70" cy="150.85" r="1.6" fill="#ff1010"/>
<circle cx="604.75" cy="152.84" r="1.6" fill="#ff1010"/>
<circle cx="590.80" cy="154.39" r="1.6" fill="#ff1010"/>
<circle cx="576.85" cy="155.71" r="1.6" fill="#ff1010"/>
<circle cx="562.90" cy="157.04" r="1.6" fill="#ff1010"/>
<circle cx="548.39" cy="158.80" r="1.6" fill="#ff1010"/>
<circle cx="534.44" cy="160.74" r="1.6" fill="#ff1010"/>
<circle cx="523.28" cy="160.79" r="1.6" fill="#ff1010"/>
<circle cx="507.10" cy="163.88" r="1.6" fill="#ff1010"/>
<circle cx="493.15" cy="166.75" r="1.6" fill="#ff1010"/>
<circle cx="480.04" cy="168.56" r="1.6" fill="#ff1010"/>
<circle cx="466.09" cy="171.83" r="1.6" fill="#ff1010"/>
<circle cx="464.41" cy="172.36" r="1.6" fill="#ff1010"/>
<circle cx="452.14" cy="175.27" r="1.6" fill="#ff1010"/>
<circle cx="446.00" cy="176.95" r="1.6" fill="#ff1010"/>
<circle cx="440.14" cy="178.93" r="1.6" fill="#ff1010"/>
<circle cx="434.56" cy="180.92" r="1.6" fill="#ff1010"/>
<circle cx="428.70" cy="183.75" r="1.6" fill="#ff1010"/>
<circle cx="423.12" cy="186.53" r="1.6" fill="#ff1010"/>
<circle cx="418.94" cy="188.43" r="1.6" fill="#ff1010"/>
<circle cx="411.96" cy="193.33" r="1.6" fill="#ff1010"/>
<circle cx="403.59" cy="200.13" r="1.6" fill="#ff1010"/>
<circle cx="398.57" cy="207.72" r="1.6" fill="#ff1010"/>
</g>
<g clip-path="url(#cb)"><polyline points="396.89,210.32 398.57,207.72 404.15,202.11 412.80,198.14 418.10,196.33 424.52,194.92 430.38,194.12 435.40,193.33 439.02,191.69 441.54,192.13 447.39,191.91 452.97,191.12 464.41,190.55 466.64,190.15 480.04,189.04 494.55,188.73 521.89,187.63 549.23,186.92 577.13,186.40 601.68,185.42 618.70,184.54 630.42,183.35 639.90,182.73 644.93,181.85 649.39,181.32 653.58,180.66 658.32,179.46 661.94,178.45 665.85,177.04 668.64,175.27 670.59,172.84 671.99,171.38" fill="none" stroke="#f09050" stroke-width="0.9" stroke-linejoin="round"/>
<rect x="395.19" y="208.62" width="3.4" height="3.4" fill="#ee8030"/>
<rect x="396.87" y="206.02" width="3.4" height="3.4" fill="#ee8030"/>
<rect x="402.45" y="200.41" width="3.4" height="3.4" fill="#ee8030"/>
<rect x="411.10" y="196.44" width="3.4" height="3.4" fill="#ee8030"/>
<rect x="416.40" y="194.63" width="3.4" height="3.4" fill="#ee8030"/>
<rect x="422.82" y="193.22" width="3.4" height="3.4" fill="#ee8030"/>
<rect x="428.68" y="192.42" width="3.4" height="3.4" fill="#ee8030"/>
<rect x="433.70" y="191.63" width="3.4" height="3.4" fill="#ee8030"/>
<rect x="437.32" y="189.99" width="3.4" height="3.4" fill="#ee8030"/>
<rect x="439.84" y="190.43" width="3.4" height="3.4" fill="#ee8030"/>
<rect x="445.69" y="190.21" width="3.4" height="3.4" fill="#ee8030"/>
<rect x="451.27" y="189.42" width="3.4" height="3.4" fill="#ee8030"/>
<rect x="462.71" y="188.85" width="3.4" height="3.4" fill="#ee8030"/>
<rect x="464.94" y="188.45" width="3.4" height="3.4" fill="#ee8030"/>
<rect x="478.34" y="187.34" width="3.4" height="3.4" fill="#ee8030"/>
<rect x="492.85" y="187.03" width="3.4" height="3.4" fill="#ee8030"/>
<rect x="520.19" y="185.93" width="3.4" height="3.4" fill="#ee8030"/>
<rect x="547.53" y="185.22" width="3.4" height="3.4" fill="#ee8030"/>
<rect x="575.43" y="184.70" width="3.4" height="3.4" fill="#ee8030"/>
<rect x="599.98" y="183.72" width="3.4" height="3.4" fill="#ee8030"/>
<rect x="617.00" y="182.84" width="3.4" height="3.4" fill="#ee8030"/>
<rect x="628.72" y="181.65" width="3.4" height="3.4" fill="#ee8030"/>
<rect x="638.20" y="181.03" width="3.4" height="3.4" fill="#ee8030"/>
<rect x="643.23" y="180.15" width="3.4" height="3.4" fill="#ee8030"/>
<rect x="647.69" y="179.62" width="3.4" height="3.4" fill="#ee8030"/>
<rect x="651.88" y="178.96" width="3.4" height="3.4" fill="#ee8030"/>
<rect x="656.62" y="177.76" width="3.4" height="3.4" fill="#ee8030"/>
<rect x="660.24" y="176.75" width="3.4" height="3.4" fill="#ee8030"/>
<rect x="664.15" y="175.34" width="3.4" height="3.4" fill="#ee8030"/>
<rect x="666.94" y="173.57" width="3.4" height="3.4" fill="#ee8030"/>
<rect x="668.89" y="171.14" width="3.4" height="3.4" fill="#ee8030"/>
<rect x="670.29" y="169.68" width="3.4" height="3.4" fill="#ee8030"/>
</g>
<g clip-path="url(#cb)"><polyline points="398.57,216.20 405.26,211.60 413.36,209.71 419.77,209.00 424.80,208.29 431.21,207.72 434.56,207.59 438.19,207.01 441.54,207.23 446.84,207.01 452.69,206.79 463.58,206.39 466.64,206.26 479.20,206.04 493.15,205.82 521.05,205.38 549.23,204.81 577.69,204.23 603.08,203.61 619.54,203.30 629.86,203.00 640.18,202.42 643.81,202.38 648.83,201.85 653.58,201.63 658.32,200.61 662.78,199.42 666.69,198.54 670.32,197.34 671.99,195.84" fill="none" stroke="#e8b850" stroke-width="0.9" stroke-linejoin="round"/>
<path d="M398.57 213.89L400.97 217.73L396.17 217.73Z" fill="#e3a82a"/>
<path d="M405.26 209.30L407.66 213.14L402.87 213.14Z" fill="#e3a82a"/>
<path d="M413.36 207.40L415.76 211.24L410.96 211.24Z" fill="#e3a82a"/>
<path d="M419.77 206.70L422.17 210.54L417.37 210.54Z" fill="#e3a82a"/>
<path d="M424.80 205.99L427.19 209.83L422.40 209.83Z" fill="#e3a82a"/>
<path d="M431.21 205.42L433.61 209.26L428.81 209.26Z" fill="#e3a82a"/>
<path d="M434.56 205.28L436.96 209.12L432.16 209.12Z" fill="#e3a82a"/>
<path d="M438.19 204.71L440.59 208.55L435.79 208.55Z" fill="#e3a82a"/>
<path d="M441.54 204.93L443.94 208.77L439.14 208.77Z" fill="#e3a82a"/>
<path d="M446.84 204.71L449.24 208.55L444.44 208.55Z" fill="#e3a82a"/>
<path d="M452.69 204.49L455.09 208.33L450.30 208.33Z" fill="#e3a82a"/>
<path d="M463.58 204.09L465.98 207.93L461.18 207.93Z" fill="#e3a82a"/>
<path d="M466.64 203.96L469.04 207.80L464.25 207.80Z" fill="#e3a82a"/>
<path d="M479.20 203.74L481.60 207.58L476.80 207.58Z" fill="#e3a82a"/>
<path d="M493.15 203.52L495.55 207.36L490.75 207.36Z" fill="#e3a82a"/>
<path d="M521.05 203.08L523.45 206.92L518.65 206.92Z" fill="#e3a82a"/>
<path d="M549.23 202.50L551.63 206.34L546.83 206.34Z" fill="#e3a82a"/>
<path d="M577.69 201.93L580.09 205.77L575.29 205.77Z" fill="#e3a82a"/>
<path d="M603.08 201.31L605.48 205.15L600.68 205.15Z" fill="#e3a82a"/>
<path d="M619.54 201.00L621.94 204.84L617.14 204.84Z" fill="#e3a82a"/>
<path d="M629.86 200.69L632.26 204.53L627.46 204.53Z" fill="#e3a82a"/>
<path d="M640.18 200.12L642.58 203.96L637.78 203.96Z" fill="#e3a82a"/>
<path d="M643.81 200.07L646.21 203.91L641.41 203.91Z" fill="#e3a82a"/>
<path d="M648.83 199.54L651.23 203.38L646.43 203.38Z" fill="#e3a82a"/>
<path d="M653.58 199.32L655.98 203.16L651.18 203.16Z" fill="#e3a82a"/>
<path d="M658.32 198.31L660.72 202.15L655.92 202.15Z" fill="#e3a82a"/>
<path d="M662.78 197.12L665.18 200.96L660.38 200.96Z" fill="#e3a82a"/>
<path d="M666.69 196.23L669.09 200.07L664.29 200.07Z" fill="#e3a82a"/>
<path d="M670.32 195.04L672.72 198.88L667.92 198.88Z" fill="#e3a82a"/>
<path d="M671.99 193.54L674.39 197.38L669.59 197.38Z" fill="#e3a82a"/>
</g>
<rect x="397" y="6" width="118.5" height="78.2" fill="#fff" stroke="#444" stroke-width="0.8"/>
<line x1="399" y1="17.8" x2="436.6" y2="17.8" stroke="#eccc88" stroke-width="1"/>
<path d="M417.80 15.88L419.80 19.08L415.80 19.08Z" fill="#e3a82a"/>
<text x="440.30" y="23.10" font-size="11.3" font-weight="bold" text-anchor="start" font-family="Liberation Sans, sans-serif" fill="#000" textLength="62.6" lengthAdjust="spacingAndGlyphs">[Dema][PA]</text>
<line x1="399" y1="36.0" x2="436.6" y2="36.0" stroke="#f0a0a8" stroke-width="1"/>
<circle cx="417.80" cy="36.00" r="1.65" fill="#ff1010"/>
<text x="440.30" y="41.30" font-size="11.3" font-weight="bold" text-anchor="start" font-family="Liberation Sans, sans-serif" fill="#000" textLength="59.9" lengthAdjust="spacingAndGlyphs">[Belm][PA]</text>
<line x1="399" y1="54.5" x2="436.6" y2="54.5" stroke="#b0b0b0" stroke-width="1"/>
<path d="M417.80 56.42L419.80 53.22L415.80 53.22Z" fill="#7a7a7a"/>
<text x="440.30" y="59.80" font-size="11.3" font-weight="bold" text-anchor="start" font-family="Liberation Sans, sans-serif" fill="#000" textLength="72.2" lengthAdjust="spacingAndGlyphs">[3-CNPy][PA]</text>
<line x1="399" y1="73.2" x2="436.6" y2="73.2" stroke="#f0b888" stroke-width="1"/>
<rect x="416.10" y="71.50" width="3.4" height="3.4" fill="#ee8030"/>
<text x="440.30" y="78.50" font-size="11.3" font-weight="bold" text-anchor="start" font-family="Liberation Sans, sans-serif" fill="#000" textLength="54.4" lengthAdjust="spacingAndGlyphs">[MIm][PA]</text>
<rect x="54.5" y="273" width="279.0" height="222.5" fill="none" stroke="#3c3c3c" stroke-width="1"/>
<line x1="54.5" y1="493.50" x2="50.5" y2="493.50" stroke="#3c3c3c" stroke-width="1"/>
<text x="46.50" y="497.30" font-size="13.8" font-weight="bold" text-anchor="end" font-family="Liberation Sans, sans-serif" fill="#000"  textLength="18.90" lengthAdjust="spacingAndGlyphs">0,0</text>
<line x1="54.5" y1="456.75" x2="50.5" y2="456.75" stroke="#3c3c3c" stroke-width="1"/>
<text x="46.50" y="460.55" font-size="13.8" font-weight="bold" text-anchor="end" font-family="Liberation Sans, sans-serif" fill="#000"  textLength="18.90" lengthAdjust="spacingAndGlyphs">0,2</text>
<line x1="54.5" y1="420.00" x2="50.5" y2="420.00" stroke="#3c3c3c" stroke-width="1"/>
<text x="46.50" y="423.80" font-size="13.8" font-weight="bold" text-anchor="end" font-family="Liberation Sans, sans-serif" fill="#000"  textLength="18.90" lengthAdjust="spacingAndGlyphs">0,4</text>
<line x1="54.5" y1="383.25" x2="50.5" y2="383.25" stroke="#3c3c3c" stroke-width="1"/>
<text x="46.50" y="387.05" font-size="13.8" font-weight="bold" text-anchor="end" font-family="Liberation Sans, sans-serif" fill="#000"  textLength="18.90" lengthAdjust="spacingAndGlyphs">0,6</text>
<line x1="54.5" y1="346.50" x2="50.5" y2="346.50" stroke="#3c3c3c" stroke-width="1"/>
<text x="46.50" y="350.30" font-size="13.8" font-weight="bold" text-anchor="end" font-family="Liberation Sans, sans-serif" fill="#000"  textLength="18.90" lengthAdjust="spacingAndGlyphs">0,8</text>
<line x1="54.5" y1="309.75" x2="50.5" y2="309.75" stroke="#3c3c3c" stroke-width="1"/>
<text x="46.50" y="313.55" font-size="13.8" font-weight="bold" text-anchor="end" font-family="Liberation Sans, sans-serif" fill="#000"  textLength="18.90" lengthAdjust="spacingAndGlyphs">1,0</text>
<line x1="54.5" y1="273.00" x2="50.5" y2="273.00" stroke="#3c3c3c" stroke-width="1"/>
<text x="46.50" y="276.80" font-size="13.8" font-weight="bold" text-anchor="end" font-family="Liberation Sans, sans-serif" fill="#000"  textLength="18.90" lengthAdjust="spacingAndGlyphs">1,2</text>
<line x1="54.5" y1="475.12" x2="52.5" y2="475.12" stroke="#3c3c3c" stroke-width="1"/>
<line x1="54.5" y1="438.38" x2="52.5" y2="438.38" stroke="#3c3c3c" stroke-width="1"/>
<line x1="54.5" y1="401.62" x2="52.5" y2="401.62" stroke="#3c3c3c" stroke-width="1"/>
<line x1="54.5" y1="364.88" x2="52.5" y2="364.88" stroke="#3c3c3c" stroke-width="1"/>
<line x1="54.5" y1="328.12" x2="52.5" y2="328.12" stroke="#3c3c3c" stroke-width="1"/>
<line x1="54.5" y1="291.38" x2="52.5" y2="291.38" stroke="#3c3c3c" stroke-width="1"/>
<line x1="54.50" y1="495.5" x2="54.50" y2="499.5" stroke="#3c3c3c" stroke-width="1"/>
<text x="54.50" y="514.00" font-size="13.8" font-weight="bold" text-anchor="middle" font-family="Liberation Sans, sans-serif" fill="#000"  textLength="7.56" lengthAdjust="spacingAndGlyphs">2</text>
<line x1="103.94" y1="495.5" x2="103.94" y2="499.5" stroke="#3c3c3c" stroke-width="1"/>
<text x="103.94" y="514.00" font-size="13.8" font-weight="bold" text-anchor="middle" font-family="Liberation Sans, sans-serif" fill="#000"  textLength="7.56" lengthAdjust="spacingAndGlyphs">4</text>
<line x1="169.28" y1="495.5" x2="169.28" y2="499.5" stroke="#3c3c3c" stroke-width="1"/>
<text x="169.28" y="514.00" font-size="13.8" font-weight="bold" text-anchor="middle" font-family="Liberation Sans, sans-serif" fill="#000"  textLength="15.12" lengthAdjust="spacingAndGlyphs">10</text>
<line x1="333.50" y1="495.5" x2="333.50" y2="499.5" stroke="#3c3c3c" stroke-width="1"/>
<text x="333.50" y="514.00" font-size="13.8" font-weight="bold" text-anchor="middle" font-family="Liberation Sans, sans-serif" fill="#000"  textLength="22.68" lengthAdjust="spacingAndGlyphs">100</text>
<line x1="62.01" y1="495.5" x2="62.01" y2="497.5" stroke="#3c3c3c" stroke-width="1"/>
<line x1="68.81" y1="495.5" x2="68.81" y2="497.5" stroke="#3c3c3c" stroke-width="1"/>
<line x1="75.02" y1="495.5" x2="75.02" y2="497.5" stroke="#3c3c3c" stroke-width="1"/>
<line x1="80.73" y1="495.5" x2="80.73" y2="497.5" stroke="#3c3c3c" stroke-width="1"/>
<line x1="86.01" y1="495.5" x2="86.01" y2="497.5" stroke="#3c3c3c" stroke-width="1"/>
<line x1="90.93" y1="495.5" x2="90.93" y2="497.5" stroke="#3c3c3c" stroke-width="1"/>
<line x1="95.53" y1="495.5" x2="95.53" y2="497.5" stroke="#3c3c3c" stroke-width="1"/>
<line x1="99.86" y1="495.5" x2="99.86" y2="497.5" stroke="#3c3c3c" stroke-width="1"/>
<line x1="114.93" y1="495.5" x2="114.93" y2="497.5" stroke="#3c3c3c" stroke-width="1"/>
<line x1="124.45" y1="495.5" x2="124.45" y2="497.5" stroke="#3c3c3c" stroke-width="1"/>
<line x1="132.85" y1="495.5" x2="132.85" y2="497.5" stroke="#3c3c3c" stroke-width="1"/>
<line x1="140.37" y1="495.5" x2="140.37" y2="497.5" stroke="#3c3c3c" stroke-width="1"/>
<line x1="147.16" y1="495.5" x2="147.16" y2="497.5" stroke="#3c3c3c" stroke-width="1"/>
<line x1="153.37" y1="495.5" x2="153.37" y2="497.5" stroke="#3c3c3c" stroke-width="1"/>
<line x1="159.08" y1="495.5" x2="159.08" y2="497.5" stroke="#3c3c3c" stroke-width="1"/>
<line x1="164.36" y1="495.5" x2="164.36" y2="497.5" stroke="#3c3c3c" stroke-width="1"/>
<line x1="218.72" y1="495.5" x2="218.72" y2="497.5" stroke="#3c3c3c" stroke-width="1"/>
<line x1="247.64" y1="495.5" x2="247.64" y2="497.5" stroke="#3c3c3c" stroke-width="1"/>
<line x1="268.16" y1="495.5" x2="268.16" y2="497.5" stroke="#3c3c3c" stroke-width="1"/>
<line x1="284.07" y1="495.5" x2="284.07" y2="497.5" stroke="#3c3c3c" stroke-width="1"/>
<line x1="297.07" y1="495.5" x2="297.07" y2="497.5" stroke="#3c3c3c" stroke-width="1"/>
<line x1="308.07" y1="495.5" x2="308.07" y2="497.5" stroke="#3c3c3c" stroke-width="1"/>
<line x1="317.59" y1="495.5" x2="317.59" y2="497.5" stroke="#3c3c3c" stroke-width="1"/>
<line x1="325.99" y1="495.5" x2="325.99" y2="497.5" stroke="#3c3c3c" stroke-width="1"/>
<text x="38.50" y="262.90" font-size="11.5" font-weight="bold" text-anchor="start" font-family="Liberation Sans, sans-serif" fill="#000" >(c)</text>
<text transform="translate(17.8,508.2) rotate(-90)" font-size="16" font-weight="bold" font-family="Liberation Sans, sans-serif" fill="#000" textLength="247.2" lengthAdjust="spacingAndGlyphs">dV/dlog(D) Pore Volume [cm<tspan font-size="10" dy="-6">3</tspan><tspan dy="6">/g]</tspan></text>
<text x="118.6" y="529.2" font-size="16" font-weight="bold" font-family="Liberation Sans, sans-serif" fill="#000" textLength="150.3" lengthAdjust="spacingAndGlyphs">Pore diameter [nm]</text>
<polyline points="276.56,492.31 308.07,492.40" fill="none" stroke="#8c8c8c" stroke-width="0.8"/>
<g clip-path="url(#cc)"><polyline points="59.99,484.86 67.21,484.31 73.49,483.94 83.18,481.19 92.55,450.32 100.28,298.54 109.26,475.12 116.94,478.43 126.65,480.27 138.56,481.92 150.37,483.58 164.11,485.42 178.00,486.70 186.89,487.44 198.20,488.36 212.38,488.91 223.21,489.64 233.48,490.38 262.59,491.66 276.56,492.31" fill="none" stroke="#8c8c8c" stroke-width="0.8" stroke-linejoin="round"/>
<rect x="57.39" y="482.26" width="5.2" height="5.2" fill="#4a4a4a"/>
<rect x="64.61" y="481.71" width="5.2" height="5.2" fill="#4a4a4a"/>
<rect x="70.89" y="481.34" width="5.2" height="5.2" fill="#4a4a4a"/>
<rect x="80.58" y="478.59" width="5.2" height="5.2" fill="#4a4a4a"/>
<rect x="89.95" y="447.72" width="5.2" height="5.2" fill="#4a4a4a"/>
<rect x="97.68" y="295.94" width="5.2" height="5.2" fill="#4a4a4a"/>
<rect x="106.66" y="472.52" width="5.2" height="5.2" fill="#4a4a4a"/>
<rect x="114.34" y="475.83" width="5.2" height="5.2" fill="#4a4a4a"/>
<rect x="124.05" y="477.67" width="5.2" height="5.2" fill="#4a4a4a"/>
<rect x="135.96" y="479.32" width="5.2" height="5.2" fill="#4a4a4a"/>
<rect x="147.77" y="480.98" width="5.2" height="5.2" fill="#4a4a4a"/>
<rect x="161.51" y="482.81" width="5.2" height="5.2" fill="#4a4a4a"/>
<rect x="175.40" y="484.10" width="5.2" height="5.2" fill="#4a4a4a"/>
<rect x="184.29" y="484.84" width="5.2" height="5.2" fill="#4a4a4a"/>
<rect x="195.60" y="485.75" width="5.2" height="5.2" fill="#4a4a4a"/>
<rect x="209.78" y="486.31" width="5.2" height="5.2" fill="#4a4a4a"/>
<rect x="220.61" y="487.04" width="5.2" height="5.2" fill="#4a4a4a"/>
<rect x="230.88" y="487.78" width="5.2" height="5.2" fill="#4a4a4a"/>
<rect x="259.99" y="489.06" width="5.2" height="5.2" fill="#4a4a4a"/>
<rect x="273.96" y="489.71" width="5.2" height="5.2" fill="#4a4a4a"/>
</g>
<g clip-path="url(#cc)"><polyline points="57.98,400.15 64.16,437.27 72.66,456.01 78.24,465.20 89.78,470.90 105.35,475.31 116.94,478.62 122.65,480.64 140.72,481.19 163.34,480.64 180.48,479.90 197.73,478.62 215.81,475.49 233.48,471.63 249.51,466.86 265.80,459.51 282.19,456.57 298.83,450.69 309.38,453.26 321.32,453.26 334.92,465.94" fill="none" stroke="#5cc890" stroke-width="0.8" stroke-linejoin="round"/>
<path d="M57.98 396.79L61.48 402.39L54.48 402.39Z" fill="#2bb878"/>
<path d="M64.16 433.91L67.66 439.51L60.66 439.51Z" fill="#2bb878"/>
<path d="M72.66 452.65L76.16 458.25L69.16 458.25Z" fill="#2bb878"/>
<path d="M78.24 461.84L81.74 467.44L74.74 467.44Z" fill="#2bb878"/>
<path d="M89.78 467.54L93.28 473.14L86.28 473.14Z" fill="#2bb878"/>
<path d="M105.35 471.95L108.85 477.55L101.85 477.55Z" fill="#2bb878"/>
<path d="M116.94 475.26L120.44 480.86L113.44 480.86Z" fill="#2bb878"/>
<path d="M122.65 477.28L126.15 482.88L119.15 482.88Z" fill="#2bb878"/>
<path d="M140.72 477.83L144.22 483.43L137.22 483.43Z" fill="#2bb878"/>
<path d="M163.34 477.28L166.84 482.88L159.84 482.88Z" fill="#2bb878"/>
<path d="M180.48 476.54L183.98 482.14L176.98 482.14Z" fill="#2bb878"/>
<path d="M197.73 475.26L201.23 480.86L194.23 480.86Z" fill="#2bb878"/>
<path d="M215.81 472.13L219.31 477.73L212.31 477.73Z" fill="#2bb878"/>
<path d="M233.48 468.27L236.98 473.87L229.98 473.87Z" fill="#2bb878"/>
<path d="M249.51 463.50L253.01 469.10L246.01 469.10Z" fill="#2bb878"/>
<path d="M265.80 456.15L269.30 461.75L262.30 461.75Z" fill="#2bb878"/>
<path d="M282.19 453.21L285.69 458.81L278.69 458.81Z" fill="#2bb878"/>
<path d="M298.83 447.33L302.33 452.93L295.33 452.93Z" fill="#2bb878"/>
<path d="M309.38 449.90L312.88 455.50L305.88 455.50Z" fill="#2bb878"/>
<path d="M321.32 449.90L324.82 455.50L317.82 455.50Z" fill="#2bb878"/>
<path d="M334.92 462.58L338.42 468.18L331.42 468.18Z" fill="#2bb878"/>
</g>
<g clip-path="url(#cc)"><polyline points="57.64,471.63 64.16,474.57 72.66,476.60 81.00,476.96 103.94,469.06 119.85,477.51 140.72,476.41 158.28,473.84 176.08,470.71 194.29,465.94 214.69,459.51 232.90,450.69 249.98,443.34 264.12,436.35 282.63,434.70 306.83,439.48 319.70,448.48 330.15,453.99 334.92,454.91" fill="none" stroke="#3a8cc8" stroke-width="0.8" stroke-linejoin="round"/>
<path d="M57.64 474.99L61.14 469.39L54.14 469.39Z" fill="#1a78b8"/>
<path d="M64.16 477.93L67.66 472.33L60.66 472.33Z" fill="#1a78b8"/>
<path d="M72.66 479.96L76.16 474.36L69.16 474.36Z" fill="#1a78b8"/>
<path d="M81.00 480.32L84.50 474.72L77.50 474.72Z" fill="#1a78b8"/>
<path d="M103.94 472.42L107.44 466.82L100.44 466.82Z" fill="#1a78b8"/>
<path d="M119.85 480.87L123.35 475.27L116.35 475.27Z" fill="#1a78b8"/>
<path d="M140.72 479.77L144.22 474.17L137.22 474.17Z" fill="#1a78b8"/>
<path d="M158.28 477.20L161.78 471.60L154.78 471.60Z" fill="#1a78b8"/>
<path d="M176.08 474.07L179.58 468.47L172.58 468.47Z" fill="#1a78b8"/>
<path d="M194.29 469.30L197.79 463.70L190.79 463.70Z" fill="#1a78b8"/>
<path d="M214.69 462.87L218.19 457.27L211.19 457.27Z" fill="#1a78b8"/>
<path d="M232.90 454.05L236.40 448.45L229.40 448.45Z" fill="#1a78b8"/>
<path d="M249.98 446.70L253.48 441.10L246.48 441.10Z" fill="#1a78b8"/>
<path d="M264.12 439.71L267.62 434.11L260.62 434.11Z" fill="#1a78b8"/>
<path d="M282.63 438.06L286.13 432.46L279.13 432.46Z" fill="#1a78b8"/>
<path d="M306.83 442.84L310.33 437.24L303.33 437.24Z" fill="#1a78b8"/>
<path d="M319.70 451.84L323.20 446.24L316.20 446.24Z" fill="#1a78b8"/>
<path d="M330.15 457.35L333.65 451.75L326.65 451.75Z" fill="#1a78b8"/>
<path d="M334.92 458.27L338.42 452.67L331.42 452.67Z" fill="#1a78b8"/>
</g>
<g clip-path="url(#cc)"><polyline points="57.98,395.19 63.53,418.16 72.66,440.03 80.51,458.40 89.56,473.10 105.35,487.99 122.65,490.74 140.72,491.66 161.77,492.58 179.25,492.95 195.29,493.13 213.93,493.13 230.22,493.13 247.64,493.13 278.12,493.13 318.48,493.13" fill="none" stroke="#4cd6bc" stroke-width="0.8" stroke-linejoin="round"/>
<circle cx="57.98" cy="395.19" r="2.9" fill="#2dcfb0"/>
<circle cx="63.53" cy="418.16" r="2.9" fill="#2dcfb0"/>
<circle cx="72.66" cy="440.03" r="2.9" fill="#2dcfb0"/>
<circle cx="80.51" cy="458.40" r="2.9" fill="#2dcfb0"/>
<circle cx="89.56" cy="473.10" r="2.9" fill="#2dcfb0"/>
<circle cx="105.35" cy="487.99" r="2.9" fill="#2dcfb0"/>
<circle cx="122.65" cy="490.74" r="2.9" fill="#2dcfb0"/>
<circle cx="140.72" cy="491.66" r="2.9" fill="#2dcfb0"/>
<circle cx="161.77" cy="492.58" r="2.9" fill="#2dcfb0"/>
<circle cx="179.25" cy="492.95" r="2.9" fill="#2dcfb0"/>
<circle cx="195.29" cy="493.13" r="2.9" fill="#2dcfb0"/>
<circle cx="213.93" cy="493.13" r="2.9" fill="#2dcfb0"/>
<circle cx="230.22" cy="493.13" r="2.9" fill="#2dcfb0"/>
<circle cx="247.64" cy="493.13" r="2.9" fill="#2dcfb0"/>
<circle cx="278.12" cy="493.13" r="2.9" fill="#2dcfb0"/>
<circle cx="318.48" cy="493.13" r="2.9" fill="#2dcfb0"/>
</g>
<rect x="244.5" y="277.5" width="85.0" height="61.0" fill="#fff" stroke="#444" stroke-width="0.8"/>
<line x1="246" y1="285.6" x2="272.2" y2="285.6" stroke="#c8c8c8" stroke-width="1"/>
<rect x="256.60" y="283.10" width="5" height="5" fill="#4a4a4a"/>
<text x="275.60" y="289.70" font-size="11.3" font-weight="bold" text-anchor="start" font-family="Liberation Sans, sans-serif" fill="#000" textLength="49.8" lengthAdjust="spacingAndGlyphs">[Trp][PA]</text>
<line x1="246" y1="300.7" x2="272.2" y2="300.7" stroke="#80d8a8" stroke-width="1"/>
<path d="M259.10 297.34L262.60 302.94L255.60 302.94Z" fill="#2bb878"/>
<text x="275.60" y="304.80" font-size="11.3" font-weight="bold" text-anchor="start" font-family="Liberation Sans, sans-serif" fill="#000" textLength="51" lengthAdjust="spacingAndGlyphs">[Arg][PA]</text>
<line x1="246" y1="315.5" x2="272.2" y2="315.5" stroke="#5aa0d0" stroke-width="1"/>
<path d="M259.10 318.86L262.60 313.26L255.60 313.26Z" fill="#1a78b8"/>
<text x="275.60" y="319.60" font-size="11.3" font-weight="bold" text-anchor="start" font-family="Liberation Sans, sans-serif" fill="#000" textLength="49.8" lengthAdjust="spacingAndGlyphs">[Gln][PA]</text>
<line x1="246" y1="330.3" x2="272.2" y2="330.3" stroke="#70dcc8" stroke-width="1"/>
<circle cx="259.10" cy="330.30" r="2.9" fill="#2dcfb0"/>
<text x="275.60" y="334.40" font-size="11.3" font-weight="bold" text-anchor="start" font-family="Liberation Sans, sans-serif" fill="#000" textLength="49.8" lengthAdjust="spacingAndGlyphs">[Hist][PA</text>
<rect x="395.5" y="273" width="279.0" height="222.5" fill="none" stroke="#3c3c3c" stroke-width="1"/>
<line x1="395.5" y1="495.50" x2="391.5" y2="495.50" stroke="#3c3c3c" stroke-width="1"/>
<text x="387.50" y="499.30" font-size="13.8" font-weight="bold" text-anchor="end" font-family="Liberation Sans, sans-serif" fill="#000"  textLength="18.90" lengthAdjust="spacingAndGlyphs">0,0</text>
<line x1="395.5" y1="467.69" x2="391.5" y2="467.69" stroke="#3c3c3c" stroke-width="1"/>
<text x="387.50" y="471.49" font-size="13.8" font-weight="bold" text-anchor="end" font-family="Liberation Sans, sans-serif" fill="#000"  textLength="18.90" lengthAdjust="spacingAndGlyphs">0,2</text>
<line x1="395.5" y1="439.88" x2="391.5" y2="439.88" stroke="#3c3c3c" stroke-width="1"/>
<text x="387.50" y="443.68" font-size="13.8" font-weight="bold" text-anchor="end" font-family="Liberation Sans, sans-serif" fill="#000"  textLength="18.90" lengthAdjust="spacingAndGlyphs">0,4</text>
<line x1="395.5" y1="412.06" x2="391.5" y2="412.06" stroke="#3c3c3c" stroke-width="1"/>
<text x="387.50" y="415.86" font-size="13.8" font-weight="bold" text-anchor="end" font-family="Liberation Sans, sans-serif" fill="#000"  textLength="18.90" lengthAdjust="spacingAndGlyphs">0,6</text>
<line x1="395.5" y1="384.25" x2="391.5" y2="384.25" stroke="#3c3c3c" stroke-width="1"/>
<text x="387.50" y="388.05" font-size="13.8" font-weight="bold" text-anchor="end" font-family="Liberation Sans, sans-serif" fill="#000"  textLength="18.90" lengthAdjust="spacingAndGlyphs">0,8</text>
<line x1="395.5" y1="356.44" x2="391.5" y2="356.44" stroke="#3c3c3c" stroke-width="1"/>
<text x="387.50" y="360.24" font-size="13.8" font-weight="bold" text-anchor="end" font-family="Liberation Sans, sans-serif" fill="#000"  textLength="18.90" lengthAdjust="spacingAndGlyphs">1,0</text>
<line x1="395.5" y1="328.63" x2="391.5" y2="328.63" stroke="#3c3c3c" stroke-width="1"/>
<text x="387.50" y="332.43" font-size="13.8" font-weight="bold" text-anchor="end" font-family="Liberation Sans, sans-serif" fill="#000"  textLength="18.90" lengthAdjust="spacingAndGlyphs">1,2</text>
<line x1="395.5" y1="300.82" x2="391.5" y2="300.82" stroke="#3c3c3c" stroke-width="1"/>
<text x="387.50" y="304.62" font-size="13.8" font-weight="bold" text-anchor="end" font-family="Liberation Sans, sans-serif" fill="#000"  textLength="18.90" lengthAdjust="spacingAndGlyphs">1,4</text>
<line x1="395.5" y1="273.00" x2="391.5" y2="273.00" stroke="#3c3c3c" stroke-width="1"/>
<text x="387.50" y="276.80" font-size="13.8" font-weight="bold" text-anchor="end" font-family="Liberation Sans, sans-serif" fill="#000"  textLength="18.90" lengthAdjust="spacingAndGlyphs">1,6</text>
<line x1="395.5" y1="481.59" x2="393.5" y2="481.59" stroke="#3c3c3c" stroke-width="1"/>
<line x1="395.5" y1="453.78" x2="393.5" y2="453.78" stroke="#3c3c3c" stroke-width="1"/>
<line x1="395.5" y1="425.97" x2="393.5" y2="425.97" stroke="#3c3c3c" stroke-width="1"/>
<line x1="395.5" y1="398.16" x2="393.5" y2="398.16" stroke="#3c3c3c" stroke-width="1"/>
<line x1="395.5" y1="370.35" x2="393.5" y2="370.35" stroke="#3c3c3c" stroke-width="1"/>
<line x1="395.5" y1="342.53" x2="393.5" y2="342.53" stroke="#3c3c3c" stroke-width="1"/>
<line x1="395.5" y1="314.72" x2="393.5" y2="314.72" stroke="#3c3c3c" stroke-width="1"/>
<line x1="395.5" y1="286.91" x2="393.5" y2="286.91" stroke="#3c3c3c" stroke-width="1"/>
<line x1="504.30" y1="495.5" x2="504.30" y2="499.5" stroke="#3c3c3c" stroke-width="1"/>
<text x="504.30" y="514.00" font-size="13.8" font-weight="bold" text-anchor="middle" font-family="Liberation Sans, sans-serif" fill="#000"  textLength="15.12" lengthAdjust="spacingAndGlyphs">10</text>
<line x1="649.45" y1="495.5" x2="649.45" y2="499.5" stroke="#3c3c3c" stroke-width="1"/>
<text x="649.45" y="514.00" font-size="13.8" font-weight="bold" text-anchor="middle" font-family="Liberation Sans, sans-serif" fill="#000"  textLength="22.68" lengthAdjust="spacingAndGlyphs">100</text>
<line x1="402.84" y1="495.5" x2="402.84" y2="497.5" stroke="#3c3c3c" stroke-width="1"/>
<line x1="428.40" y1="495.5" x2="428.40" y2="497.5" stroke="#3c3c3c" stroke-width="1"/>
<line x1="446.54" y1="495.5" x2="446.54" y2="497.5" stroke="#3c3c3c" stroke-width="1"/>
<line x1="460.61" y1="495.5" x2="460.61" y2="497.5" stroke="#3c3c3c" stroke-width="1"/>
<line x1="472.10" y1="495.5" x2="472.10" y2="497.5" stroke="#3c3c3c" stroke-width="1"/>
<line x1="481.82" y1="495.5" x2="481.82" y2="497.5" stroke="#3c3c3c" stroke-width="1"/>
<line x1="490.23" y1="495.5" x2="490.23" y2="497.5" stroke="#3c3c3c" stroke-width="1"/>
<line x1="497.66" y1="495.5" x2="497.66" y2="497.5" stroke="#3c3c3c" stroke-width="1"/>
<line x1="547.99" y1="495.5" x2="547.99" y2="497.5" stroke="#3c3c3c" stroke-width="1"/>
<line x1="573.55" y1="495.5" x2="573.55" y2="497.5" stroke="#3c3c3c" stroke-width="1"/>
<line x1="591.69" y1="495.5" x2="591.69" y2="497.5" stroke="#3c3c3c" stroke-width="1"/>
<line x1="605.76" y1="495.5" x2="605.76" y2="497.5" stroke="#3c3c3c" stroke-width="1"/>
<line x1="617.25" y1="495.5" x2="617.25" y2="497.5" stroke="#3c3c3c" stroke-width="1"/>
<line x1="626.97" y1="495.5" x2="626.97" y2="497.5" stroke="#3c3c3c" stroke-width="1"/>
<line x1="635.38" y1="495.5" x2="635.38" y2="497.5" stroke="#3c3c3c" stroke-width="1"/>
<line x1="642.81" y1="495.5" x2="642.81" y2="497.5" stroke="#3c3c3c" stroke-width="1"/>
<text x="370.40" y="261.40" font-size="11.5" font-weight="bold" text-anchor="start" font-family="Liberation Sans, sans-serif" fill="#000" >(d)</text>
<text transform="translate(362,508.7) rotate(-90)" font-size="16" font-weight="bold" font-family="Liberation Sans, sans-serif" fill="#000" textLength="248" lengthAdjust="spacingAndGlyphs">dV/dlog(D) Pore Volume [cm<tspan font-size="10" dy="-6">3</tspan><tspan dy="6">/g]</tspan></text>
<text x="460.2" y="528.6" font-size="16" font-weight="bold" font-family="Liberation Sans, sans-serif" fill="#000" textLength="150.6" lengthAdjust="spacingAndGlyphs">Pore diameter [nm]</text>
<g clip-path="url(#cd)"><polyline points="399.28,293.17 408.57,288.30 414.86,306.38 421.76,345.04 428.82,387.87 436.29,387.17 443.14,469.91 450.51,485.49 458.56,487.99 466.96,490.22 476.36,491.75 486.08,492.44 499.73,493.00 516.84,492.72 533.93,493.83 547.99,494.11 566.91,494.67 591.69,494.94 619.32,495.08 649.45,495.22 660.94,495.22" fill="none" stroke="#8a8a8a" stroke-width="0.8" stroke-linejoin="round"/>
<path d="M399.28 296.77L403.03 290.77L395.53 290.77Z" fill="#7e7e7e"/>
<path d="M408.57 291.90L412.32 285.90L404.82 285.90Z" fill="#7e7e7e"/>
<path d="M414.86 309.98L418.61 303.98L411.11 303.98Z" fill="#7e7e7e"/>
<path d="M421.76 348.64L425.51 342.64L418.01 342.64Z" fill="#7e7e7e"/>
<path d="M428.82 391.47L432.57 385.47L425.07 385.47Z" fill="#7e7e7e"/>
<path d="M436.29 390.77L440.04 384.77L432.54 384.77Z" fill="#7e7e7e"/>
<path d="M443.14 473.51L446.89 467.51L439.39 467.51Z" fill="#7e7e7e"/>
<path d="M450.51 489.09L454.26 483.09L446.76 483.09Z" fill="#7e7e7e"/>
<path d="M458.56 491.59L462.31 485.59L454.81 485.59Z" fill="#7e7e7e"/>
<path d="M466.96 493.82L470.71 487.82L463.21 487.82Z" fill="#7e7e7e"/>
<path d="M476.36 495.35L480.11 489.35L472.61 489.35Z" fill="#7e7e7e"/>
<path d="M486.08 496.04L489.83 490.04L482.33 490.04Z" fill="#7e7e7e"/>
<path d="M499.73 496.60L503.48 490.60L495.98 490.60Z" fill="#7e7e7e"/>
<path d="M516.84 496.32L520.59 490.32L513.09 490.32Z" fill="#7e7e7e"/>
<path d="M533.93 497.43L537.68 491.43L530.18 491.43Z" fill="#7e7e7e"/>
<path d="M547.99 497.71L551.74 491.71L544.24 491.71Z" fill="#7e7e7e"/>
<path d="M566.91 498.27L570.66 492.27L563.16 492.27Z" fill="#7e7e7e"/>
<path d="M591.69 498.54L595.44 492.54L587.94 492.54Z" fill="#7e7e7e"/>
<path d="M619.32 498.68L623.07 492.68L615.57 492.68Z" fill="#7e7e7e"/>
<path d="M649.45 498.82L653.20 492.82L645.70 492.82Z" fill="#7e7e7e"/>
<path d="M660.94 498.82L664.69 492.82L657.19 492.82Z" fill="#7e7e7e"/>
</g>
<g clip-path="url(#cd)"><polyline points="398.94,407.34 407.70,431.67 415.12,447.39 422.23,457.54 428.61,459.76 436.48,436.26 443.14,452.11 450.51,480.20 458.56,482.29 466.96,483.82 476.36,484.93 487.00,484.51 499.73,483.40 511.44,483.68 520.84,483.68 531.52,483.68 544.09,483.68 559.75,483.68 578.21,483.12 605.76,483.12 639.21,486.88 665.99,492.58" fill="none" stroke="#f03030" stroke-width="0.8" stroke-linejoin="round"/>
<circle cx="398.94" cy="407.34" r="3.1" fill="#ff1414"/>
<circle cx="407.70" cy="431.67" r="3.1" fill="#ff1414"/>
<circle cx="415.12" cy="447.39" r="3.1" fill="#ff1414"/>
<circle cx="422.23" cy="457.54" r="3.1" fill="#ff1414"/>
<circle cx="428.61" cy="459.76" r="3.1" fill="#ff1414"/>
<circle cx="436.48" cy="436.26" r="3.1" fill="#ff1414"/>
<circle cx="443.14" cy="452.11" r="3.1" fill="#ff1414"/>
<circle cx="450.51" cy="480.20" r="3.1" fill="#ff1414"/>
<circle cx="458.56" cy="482.29" r="3.1" fill="#ff1414"/>
<circle cx="466.96" cy="483.82" r="3.1" fill="#ff1414"/>
<circle cx="476.36" cy="484.93" r="3.1" fill="#ff1414"/>
<circle cx="487.00" cy="484.51" r="3.1" fill="#ff1414"/>
<circle cx="499.73" cy="483.40" r="3.1" fill="#ff1414"/>
<circle cx="511.44" cy="483.68" r="3.1" fill="#ff1414"/>
<circle cx="520.84" cy="483.68" r="3.1" fill="#ff1414"/>
<circle cx="531.52" cy="483.68" r="3.1" fill="#ff1414"/>
<circle cx="544.09" cy="483.68" r="3.1" fill="#ff1414"/>
<circle cx="559.75" cy="483.68" r="3.1" fill="#ff1414"/>
<circle cx="578.21" cy="483.12" r="3.1" fill="#ff1414"/>
<circle cx="605.76" cy="483.12" r="3.1" fill="#ff1414"/>
<circle cx="639.21" cy="486.88" r="3.1" fill="#ff1414"/>
<circle cx="665.99" cy="492.58" r="3.1" fill="#ff1414"/>
</g>
<g clip-path="url(#cd)"><polyline points="405.62,460.74 411.38,472.69 418.90,480.20 425.83,484.10 434.03,486.74 447.94,487.99 462.96,491.05 479.15,491.19 496.24,491.33 513.11,490.49 527.72,490.49 540.29,489.94 550.16,489.94 561.04,489.52 573.76,489.10 588.46,488.55 607.86,488.27 630.04,489.10 653.00,491.75 656.59,492.02" fill="none" stroke="#f0a060" stroke-width="0.8" stroke-linejoin="round"/>
<circle cx="405.62" cy="460.74" r="3.1" fill="#ee8a30"/>
<circle cx="411.38" cy="472.69" r="3.1" fill="#ee8a30"/>
<circle cx="418.90" cy="480.20" r="3.1" fill="#ee8a30"/>
<circle cx="425.83" cy="484.10" r="3.1" fill="#ee8a30"/>
<circle cx="434.03" cy="486.74" r="3.1" fill="#ee8a30"/>
<circle cx="447.94" cy="487.99" r="3.1" fill="#ee8a30"/>
<circle cx="462.96" cy="491.05" r="3.1" fill="#ee8a30"/>
<circle cx="479.15" cy="491.19" r="3.1" fill="#ee8a30"/>
<circle cx="496.24" cy="491.33" r="3.1" fill="#ee8a30"/>
<circle cx="513.11" cy="490.49" r="3.1" fill="#ee8a30"/>
<circle cx="527.72" cy="490.49" r="3.1" fill="#ee8a30"/>
<circle cx="540.29" cy="489.94" r="3.1" fill="#ee8a30"/>
<circle cx="550.16" cy="489.94" r="3.1" fill="#ee8a30"/>
<circle cx="561.04" cy="489.52" r="3.1" fill="#ee8a30"/>
<circle cx="573.76" cy="489.10" r="3.1" fill="#ee8a30"/>
<circle cx="588.46" cy="488.55" r="3.1" fill="#ee8a30"/>
<circle cx="607.86" cy="488.27" r="3.1" fill="#ee8a30"/>
<circle cx="630.04" cy="489.10" r="3.1" fill="#ee8a30"/>
<circle cx="653.00" cy="491.75" r="3.1" fill="#ee8a30"/>
<circle cx="656.59" cy="492.02" r="3.1" fill="#ee8a30"/>
</g>
<g clip-path="url(#cd)"><polyline points="405.62,482.15 411.38,486.46 418.90,488.41 425.83,489.80 434.03,491.47 447.94,492.02 462.96,493.00 479.15,493.00 496.24,493.00 513.66,493.00 527.29,492.72 539.58,492.72 550.16,492.72 561.04,492.44 573.76,491.33 588.46,490.49 607.86,489.52 630.04,489.10 658.26,491.33" fill="none" stroke="#ecc060" stroke-width="0.8" stroke-linejoin="round"/>
<path d="M405.62 478.79L409.12 484.39L402.12 484.39Z" fill="#e6ae2a"/>
<path d="M411.38 483.10L414.88 488.70L407.88 488.70Z" fill="#e6ae2a"/>
<path d="M418.90 485.05L422.40 490.65L415.40 490.65Z" fill="#e6ae2a"/>
<path d="M425.83 486.44L429.33 492.04L422.33 492.04Z" fill="#e6ae2a"/>
<path d="M434.03 488.11L437.53 493.71L430.53 493.71Z" fill="#e6ae2a"/>
<path d="M447.94 488.66L451.44 494.26L444.44 494.26Z" fill="#e6ae2a"/>
<path d="M462.96 489.64L466.46 495.24L459.46 495.24Z" fill="#e6ae2a"/>
<path d="M479.15 489.64L482.65 495.24L475.65 495.24Z" fill="#e6ae2a"/>
<path d="M496.24 489.64L499.74 495.24L492.74 495.24Z" fill="#e6ae2a"/>
<path d="M513.66 489.64L517.16 495.24L510.16 495.24Z" fill="#e6ae2a"/>
<path d="M527.29 489.36L530.79 494.96L523.79 494.96Z" fill="#e6ae2a"/>
<path d="M539.58 489.36L543.08 494.96L536.08 494.96Z" fill="#e6ae2a"/>
<path d="M550.16 489.36L553.66 494.96L546.66 494.96Z" fill="#e6ae2a"/>
<path d="M561.04 489.08L564.54 494.68L557.54 494.68Z" fill="#e6ae2a"/>
<path d="M573.76 487.97L577.26 493.57L570.26 493.57Z" fill="#e6ae2a"/>
<path d="M588.46 487.13L591.96 492.73L584.96 492.73Z" fill="#e6ae2a"/>
<path d="M607.86 486.16L611.36 491.76L604.36 491.76Z" fill="#e6ae2a"/>
<path d="M630.04 485.74L633.54 491.34L626.54 491.34Z" fill="#e6ae2a"/>
<path d="M658.26 487.97L661.76 493.57L654.76 493.57Z" fill="#e6ae2a"/>
</g>
<rect x="563.5" y="275.5" width="109.0" height="61.0" fill="#fff" stroke="#444" stroke-width="0.8"/>
<line x1="564.9" y1="283.9" x2="590.7" y2="283.9" stroke="#f0a0a8" stroke-width="1"/>
<circle cx="577.80" cy="283.90" r="2.9" fill="#ff1414"/>
<text x="594.90" y="288.00" font-size="11.3" font-weight="bold" text-anchor="start" font-family="Liberation Sans, sans-serif" fill="#000" textLength="59.6" lengthAdjust="spacingAndGlyphs">[Belm][PA]</text>
<line x1="564.9" y1="299.4" x2="590.7" y2="299.4" stroke="#c0c0c0" stroke-width="1"/>
<path d="M577.80 302.76L581.30 297.16L574.30 297.16Z" fill="#7e7e7e"/>
<text x="594.90" y="303.50" font-size="11.3" font-weight="bold" text-anchor="start" font-family="Liberation Sans, sans-serif" fill="#000" textLength="72.2" lengthAdjust="spacingAndGlyphs">[3-CNPy][PA]</text>
<line x1="564.9" y1="313.7" x2="590.7" y2="313.7" stroke="#f0c090" stroke-width="1"/>
<circle cx="577.80" cy="313.70" r="2.9" fill="#ee8a30"/>
<text x="594.90" y="317.80" font-size="11.3" font-weight="bold" text-anchor="start" font-family="Liberation Sans, sans-serif" fill="#000" textLength="54.4" lengthAdjust="spacingAndGlyphs">[MIm][PA]</text>
<line x1="564.9" y1="328.3" x2="590.7" y2="328.3" stroke="#ecd090" stroke-width="1"/>
<path d="M577.80 324.94L581.30 330.54L574.30 330.54Z" fill="#e6ae2a"/>
<text x="594.90" y="332.40" font-size="11.3" font-weight="bold" text-anchor="start" font-family="Liberation Sans, sans-serif" fill="#000" textLength="62.6" lengthAdjust="spacingAndGlyphs">[Dema][PA]</text>
</svg>
</body></html>
